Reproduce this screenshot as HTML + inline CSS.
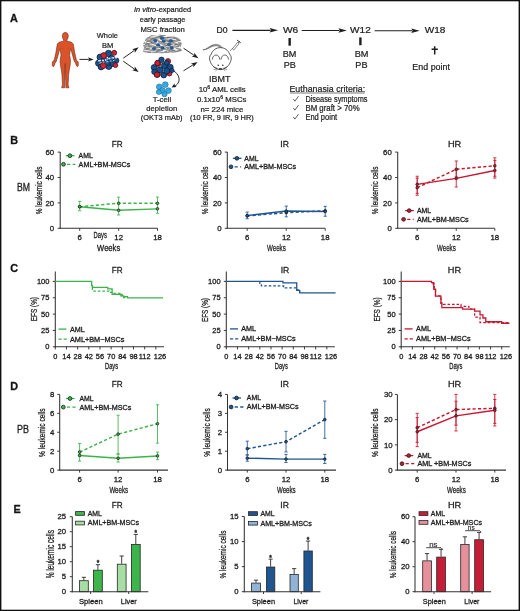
<!DOCTYPE html>
<html><head><meta charset="utf-8"><style>
html,body{margin:0;padding:0;background:#fff;overflow:hidden;}
svg{will-change:transform;display:block;font-family:"Liberation Sans", sans-serif;}
text{stroke:#1e1e1e;stroke-width:0.3px;}
.pa text{stroke-width:0.22px;}
</style></head><body>
<svg width="520" height="611" viewBox="0 0 520 611">
<rect x="0" y="0" width="520" height="611" fill="#fff"/>
<text transform="translate(10.00,22.00)" font-size="10.8" text-anchor="start" fill="#111" font-weight="bold">A</text>
<text transform="translate(10.30,144.30)" font-size="10.8" text-anchor="start" fill="#111" font-weight="bold">B</text>
<text transform="translate(10.30,272.30)" font-size="10.8" text-anchor="start" fill="#111" font-weight="bold">C</text>
<text transform="translate(10.30,389.80)" font-size="10.8" text-anchor="start" fill="#111" font-weight="bold">D</text>
<text transform="translate(13.40,513.20)" font-size="10.8" text-anchor="start" fill="#111" font-weight="bold">E</text>
<text transform="translate(23.50,190.60)" font-size="10.1" text-anchor="middle" fill="#1e1e1e" textLength="13.0" lengthAdjust="spacingAndGlyphs">BM</text>
<text transform="translate(22.95,432.60)" font-size="10.0" text-anchor="middle" fill="#1e1e1e" textLength="11.9" lengthAdjust="spacingAndGlyphs">PB</text>
<line x1="60.20" y1="152.10" x2="60.20" y2="228.80" stroke="#333333" stroke-width="1.05" stroke-linecap="butt"/>
<line x1="59.70" y1="228.30" x2="157.50" y2="228.30" stroke="#333333" stroke-width="1.05" stroke-linecap="butt"/>
<line x1="57.70" y1="228.30" x2="60.20" y2="228.30" stroke="#333333" stroke-width="0.95" stroke-linecap="butt"/>
<text transform="translate(54.20,230.95)" font-size="7.8" text-anchor="end" fill="#1e1e1e">0</text>
<line x1="57.70" y1="202.90" x2="60.20" y2="202.90" stroke="#333333" stroke-width="0.95" stroke-linecap="butt"/>
<text transform="translate(54.20,205.55)" font-size="7.8" text-anchor="end" fill="#1e1e1e">20</text>
<line x1="57.70" y1="177.50" x2="60.20" y2="177.50" stroke="#333333" stroke-width="0.95" stroke-linecap="butt"/>
<text transform="translate(54.20,180.15)" font-size="7.8" text-anchor="end" fill="#1e1e1e">40</text>
<line x1="57.70" y1="152.10" x2="60.20" y2="152.10" stroke="#333333" stroke-width="0.95" stroke-linecap="butt"/>
<text transform="translate(54.20,154.75)" font-size="7.8" text-anchor="end" fill="#1e1e1e">60</text>
<line x1="79.70" y1="228.30" x2="79.70" y2="230.80" stroke="#333333" stroke-width="0.95" stroke-linecap="butt"/>
<text transform="translate(79.70,239.90)" font-size="7.8" text-anchor="middle" fill="#1e1e1e">6</text>
<line x1="118.65" y1="228.30" x2="118.65" y2="230.80" stroke="#333333" stroke-width="0.95" stroke-linecap="butt"/>
<text transform="translate(118.65,239.90)" font-size="7.8" text-anchor="middle" fill="#1e1e1e">12</text>
<line x1="157.50" y1="228.30" x2="157.50" y2="230.80" stroke="#333333" stroke-width="0.95" stroke-linecap="butt"/>
<text transform="translate(157.50,239.90)" font-size="7.8" text-anchor="middle" fill="#1e1e1e">18</text>
<line x1="79.70" y1="210.77" x2="79.70" y2="201.38" stroke="#3cb44a" stroke-width="0.85" stroke-linecap="butt"/>
<line x1="78.10" y1="210.77" x2="81.30" y2="210.77" stroke="#3cb44a" stroke-width="0.85" stroke-linecap="butt"/>
<line x1="78.10" y1="201.38" x2="81.30" y2="201.38" stroke="#3cb44a" stroke-width="0.85" stroke-linecap="butt"/>
<line x1="118.65" y1="214.97" x2="118.65" y2="197.19" stroke="#3cb44a" stroke-width="0.85" stroke-linecap="butt"/>
<line x1="117.05" y1="214.97" x2="120.25" y2="214.97" stroke="#3cb44a" stroke-width="0.85" stroke-linecap="butt"/>
<line x1="117.05" y1="197.19" x2="120.25" y2="197.19" stroke="#3cb44a" stroke-width="0.85" stroke-linecap="butt"/>
<line x1="157.50" y1="213.31" x2="157.50" y2="197.06" stroke="#3cb44a" stroke-width="0.85" stroke-linecap="butt"/>
<line x1="155.90" y1="213.31" x2="159.10" y2="213.31" stroke="#3cb44a" stroke-width="0.85" stroke-linecap="butt"/>
<line x1="155.90" y1="197.06" x2="159.10" y2="197.06" stroke="#3cb44a" stroke-width="0.85" stroke-linecap="butt"/>
<polyline points="79.70,206.71 118.65,203.28 157.50,203.28" fill="none" stroke="#3cb44a" stroke-width="1.45" stroke-linejoin="miter" stroke-dasharray="3.2,2.2"/>
<polyline points="79.70,206.71 118.65,210.27 157.50,208.87" fill="none" stroke="#3cb44a" stroke-width="1.45" stroke-linejoin="miter"/>
<circle cx="79.70" cy="206.71" r="1.35" fill="#3cb44a" stroke="#1a1a1a" stroke-width="0.7"/>
<circle cx="118.65" cy="203.28" r="1.35" fill="#3cb44a" stroke="#1a1a1a" stroke-width="0.7"/>
<circle cx="157.50" cy="203.28" r="1.35" fill="#3cb44a" stroke="#1a1a1a" stroke-width="0.7"/>
<circle cx="79.70" cy="206.71" r="1.35" fill="#3cb44a" stroke="#1a1a1a" stroke-width="0.7"/>
<circle cx="118.65" cy="210.27" r="1.35" fill="#3cb44a" stroke="#1a1a1a" stroke-width="0.7"/>
<circle cx="157.50" cy="208.87" r="1.35" fill="#3cb44a" stroke="#1a1a1a" stroke-width="0.7"/>
<text transform="translate(117.30,146.80)" font-size="9.7" text-anchor="middle" fill="#1e1e1e" textLength="10.9" lengthAdjust="spacingAndGlyphs">FR</text>
<line x1="65.90" y1="155.70" x2="74.50" y2="155.70" stroke="#3cb44a" stroke-width="1.3" stroke-linecap="butt"/>
<line x1="67.10" y1="164.30" x2="75.40" y2="164.30" stroke="#3cb44a" stroke-width="1.3" stroke-linecap="butt" stroke-dasharray="3.2,2.3"/>
<circle cx="69.90" cy="155.70" r="1.9" fill="#3cb44a" stroke="#1a1a1a" stroke-width="0.75"/>
<circle cx="63.50" cy="164.30" r="1.9" fill="#3cb44a" stroke="#1a1a1a" stroke-width="0.75"/>
<text transform="translate(78.60,158.15)" font-size="7.1" text-anchor="start" fill="#1e1e1e" textLength="14.2" lengthAdjust="spacingAndGlyphs">AML</text>
<text transform="translate(78.60,166.75)" font-size="7.1" text-anchor="start" fill="#1e1e1e" textLength="51.8" lengthAdjust="spacingAndGlyphs">AML+BM-MSCs</text>
<text transform="translate(41.55,190.35) rotate(-90)" font-size="8.68" text-anchor="middle" fill="#1e1e1e" textLength="47.9" lengthAdjust="spacingAndGlyphs">% leukemic cells</text>
<text transform="translate(108.65,250.70)" font-size="8.4" text-anchor="middle" fill="#1e1e1e" textLength="23.1" lengthAdjust="spacingAndGlyphs">Weeks</text>
<text transform="translate(100.25,238.40)" font-size="9.4" text-anchor="middle" fill="#1e1e1e" textLength="13.3" lengthAdjust="spacingAndGlyphs">Days</text>
<line x1="227.30" y1="152.10" x2="227.30" y2="228.80" stroke="#333333" stroke-width="1.05" stroke-linecap="butt"/>
<line x1="226.80" y1="228.30" x2="325.20" y2="228.30" stroke="#333333" stroke-width="1.05" stroke-linecap="butt"/>
<line x1="224.80" y1="228.30" x2="227.30" y2="228.30" stroke="#333333" stroke-width="0.95" stroke-linecap="butt"/>
<text transform="translate(221.60,230.95)" font-size="7.8" text-anchor="end" fill="#1e1e1e">0</text>
<line x1="224.80" y1="202.90" x2="227.30" y2="202.90" stroke="#333333" stroke-width="0.95" stroke-linecap="butt"/>
<text transform="translate(221.60,205.55)" font-size="7.8" text-anchor="end" fill="#1e1e1e">20</text>
<line x1="224.80" y1="177.50" x2="227.30" y2="177.50" stroke="#333333" stroke-width="0.95" stroke-linecap="butt"/>
<text transform="translate(221.60,180.15)" font-size="7.8" text-anchor="end" fill="#1e1e1e">40</text>
<line x1="224.80" y1="152.10" x2="227.30" y2="152.10" stroke="#333333" stroke-width="0.95" stroke-linecap="butt"/>
<text transform="translate(221.60,154.75)" font-size="7.8" text-anchor="end" fill="#1e1e1e">60</text>
<line x1="247.20" y1="228.30" x2="247.20" y2="230.80" stroke="#333333" stroke-width="0.95" stroke-linecap="butt"/>
<text transform="translate(247.20,239.90)" font-size="7.8" text-anchor="middle" fill="#1e1e1e">6</text>
<line x1="286.25" y1="228.30" x2="286.25" y2="230.80" stroke="#333333" stroke-width="0.95" stroke-linecap="butt"/>
<text transform="translate(286.25,239.90)" font-size="7.8" text-anchor="middle" fill="#1e1e1e">12</text>
<line x1="325.20" y1="228.30" x2="325.20" y2="230.80" stroke="#333333" stroke-width="0.95" stroke-linecap="butt"/>
<text transform="translate(325.20,239.90)" font-size="7.8" text-anchor="middle" fill="#1e1e1e">18</text>
<line x1="247.20" y1="218.78" x2="247.20" y2="212.04" stroke="#1f5592" stroke-width="0.85" stroke-linecap="butt"/>
<line x1="245.60" y1="218.78" x2="248.80" y2="218.78" stroke="#1f5592" stroke-width="0.85" stroke-linecap="butt"/>
<line x1="245.60" y1="212.04" x2="248.80" y2="212.04" stroke="#1f5592" stroke-width="0.85" stroke-linecap="butt"/>
<line x1="286.25" y1="216.87" x2="286.25" y2="206.08" stroke="#1f5592" stroke-width="0.85" stroke-linecap="butt"/>
<line x1="284.65" y1="216.87" x2="287.85" y2="216.87" stroke="#1f5592" stroke-width="0.85" stroke-linecap="butt"/>
<line x1="284.65" y1="206.08" x2="287.85" y2="206.08" stroke="#1f5592" stroke-width="0.85" stroke-linecap="butt"/>
<line x1="325.20" y1="216.24" x2="325.20" y2="206.33" stroke="#1f5592" stroke-width="0.85" stroke-linecap="butt"/>
<line x1="323.60" y1="216.24" x2="326.80" y2="216.24" stroke="#1f5592" stroke-width="0.85" stroke-linecap="butt"/>
<line x1="323.60" y1="206.33" x2="326.80" y2="206.33" stroke="#1f5592" stroke-width="0.85" stroke-linecap="butt"/>
<polyline points="247.20,215.85 286.25,212.68 325.20,210.77" fill="none" stroke="#1f5592" stroke-width="1.45" stroke-linejoin="miter" stroke-dasharray="3.2,2.2"/>
<polyline points="247.20,215.60 286.25,211.03 325.20,211.54" fill="none" stroke="#1f5592" stroke-width="1.45" stroke-linejoin="miter"/>
<circle cx="247.20" cy="215.85" r="1.35" fill="#1f5592" stroke="#1a1a1a" stroke-width="0.7"/>
<circle cx="286.25" cy="212.68" r="1.35" fill="#1f5592" stroke="#1a1a1a" stroke-width="0.7"/>
<circle cx="325.20" cy="210.77" r="1.35" fill="#1f5592" stroke="#1a1a1a" stroke-width="0.7"/>
<circle cx="247.20" cy="215.60" r="1.35" fill="#1f5592" stroke="#1a1a1a" stroke-width="0.7"/>
<circle cx="286.25" cy="211.03" r="1.35" fill="#1f5592" stroke="#1a1a1a" stroke-width="0.7"/>
<circle cx="325.20" cy="211.54" r="1.35" fill="#1f5592" stroke="#1a1a1a" stroke-width="0.7"/>
<text transform="translate(284.60,146.80)" font-size="9.7" text-anchor="middle" fill="#1e1e1e" textLength="8.6" lengthAdjust="spacingAndGlyphs">IR</text>
<line x1="232.90" y1="158.30" x2="241.50" y2="158.30" stroke="#1f5592" stroke-width="1.3" stroke-linecap="butt"/>
<line x1="234.60" y1="166.80" x2="241.10" y2="166.80" stroke="#1f5592" stroke-width="1.3" stroke-linecap="butt" stroke-dasharray="3.2,2.3"/>
<circle cx="236.90" cy="158.30" r="1.9" fill="#1f5592" stroke="#1a1a1a" stroke-width="0.75"/>
<circle cx="231.00" cy="166.80" r="1.9" fill="#1f5592" stroke="#1a1a1a" stroke-width="0.75"/>
<text transform="translate(244.30,160.75)" font-size="7.1" text-anchor="start" fill="#1e1e1e" textLength="14.2" lengthAdjust="spacingAndGlyphs">AML</text>
<text transform="translate(244.30,169.25)" font-size="7.1" text-anchor="start" fill="#1e1e1e" textLength="51.8" lengthAdjust="spacingAndGlyphs">AML+BM-MSCs</text>
<text transform="translate(207.85,190.35) rotate(-90)" font-size="8.82" text-anchor="middle" fill="#1e1e1e" textLength="47.9" lengthAdjust="spacingAndGlyphs">% leukemic cells</text>
<text transform="translate(276.40,250.60)" font-size="9.6" text-anchor="middle" fill="#1e1e1e" textLength="18.8" lengthAdjust="spacingAndGlyphs">Weeks</text>
<line x1="397.70" y1="152.10" x2="397.70" y2="228.80" stroke="#333333" stroke-width="1.05" stroke-linecap="butt"/>
<line x1="397.20" y1="228.30" x2="494.80" y2="228.30" stroke="#333333" stroke-width="1.05" stroke-linecap="butt"/>
<line x1="395.20" y1="228.30" x2="397.70" y2="228.30" stroke="#333333" stroke-width="0.95" stroke-linecap="butt"/>
<text transform="translate(391.80,230.95)" font-size="7.8" text-anchor="end" fill="#1e1e1e">0</text>
<line x1="395.20" y1="202.90" x2="397.70" y2="202.90" stroke="#333333" stroke-width="0.95" stroke-linecap="butt"/>
<text transform="translate(391.80,205.55)" font-size="7.8" text-anchor="end" fill="#1e1e1e">20</text>
<line x1="395.20" y1="177.50" x2="397.70" y2="177.50" stroke="#333333" stroke-width="0.95" stroke-linecap="butt"/>
<text transform="translate(391.80,180.15)" font-size="7.8" text-anchor="end" fill="#1e1e1e">40</text>
<line x1="395.20" y1="152.10" x2="397.70" y2="152.10" stroke="#333333" stroke-width="0.95" stroke-linecap="butt"/>
<text transform="translate(391.80,154.75)" font-size="7.8" text-anchor="end" fill="#1e1e1e">60</text>
<line x1="417.20" y1="228.30" x2="417.20" y2="230.80" stroke="#333333" stroke-width="0.95" stroke-linecap="butt"/>
<text transform="translate(417.20,239.90)" font-size="7.8" text-anchor="middle" fill="#1e1e1e">6</text>
<line x1="456.25" y1="228.30" x2="456.25" y2="230.80" stroke="#333333" stroke-width="0.95" stroke-linecap="butt"/>
<text transform="translate(456.25,239.90)" font-size="7.8" text-anchor="middle" fill="#1e1e1e">12</text>
<line x1="494.80" y1="228.30" x2="494.80" y2="230.80" stroke="#333333" stroke-width="0.95" stroke-linecap="butt"/>
<text transform="translate(494.80,239.90)" font-size="7.8" text-anchor="middle" fill="#1e1e1e">18</text>
<line x1="417.20" y1="193.38" x2="417.20" y2="176.23" stroke="#c8172f" stroke-width="0.85" stroke-linecap="butt"/>
<line x1="415.60" y1="193.38" x2="418.80" y2="193.38" stroke="#c8172f" stroke-width="0.85" stroke-linecap="butt"/>
<line x1="415.60" y1="176.23" x2="418.80" y2="176.23" stroke="#c8172f" stroke-width="0.85" stroke-linecap="butt"/>
<line x1="417.20" y1="195.28" x2="417.20" y2="178.13" stroke="#c8172f" stroke-width="0.85" stroke-linecap="butt"/>
<line x1="415.60" y1="195.28" x2="418.80" y2="195.28" stroke="#c8172f" stroke-width="0.85" stroke-linecap="butt"/>
<line x1="415.60" y1="178.13" x2="418.80" y2="178.13" stroke="#c8172f" stroke-width="0.85" stroke-linecap="butt"/>
<line x1="456.25" y1="187.03" x2="456.25" y2="169.88" stroke="#c8172f" stroke-width="0.85" stroke-linecap="butt"/>
<line x1="454.65" y1="187.03" x2="457.85" y2="187.03" stroke="#c8172f" stroke-width="0.85" stroke-linecap="butt"/>
<line x1="454.65" y1="169.88" x2="457.85" y2="169.88" stroke="#c8172f" stroke-width="0.85" stroke-linecap="butt"/>
<line x1="456.25" y1="176.87" x2="456.25" y2="160.99" stroke="#c8172f" stroke-width="0.85" stroke-linecap="butt"/>
<line x1="454.65" y1="176.87" x2="457.85" y2="176.87" stroke="#c8172f" stroke-width="0.85" stroke-linecap="butt"/>
<line x1="454.65" y1="160.99" x2="457.85" y2="160.99" stroke="#c8172f" stroke-width="0.85" stroke-linecap="butt"/>
<line x1="494.80" y1="178.13" x2="494.80" y2="160.36" stroke="#c8172f" stroke-width="0.85" stroke-linecap="butt"/>
<line x1="493.20" y1="178.13" x2="496.40" y2="178.13" stroke="#c8172f" stroke-width="0.85" stroke-linecap="butt"/>
<line x1="493.20" y1="160.36" x2="496.40" y2="160.36" stroke="#c8172f" stroke-width="0.85" stroke-linecap="butt"/>
<line x1="494.80" y1="176.23" x2="494.80" y2="157.81" stroke="#c8172f" stroke-width="0.85" stroke-linecap="butt"/>
<line x1="493.20" y1="176.23" x2="496.40" y2="176.23" stroke="#c8172f" stroke-width="0.85" stroke-linecap="butt"/>
<line x1="493.20" y1="157.81" x2="496.40" y2="157.81" stroke="#c8172f" stroke-width="0.85" stroke-linecap="butt"/>
<polyline points="417.20,187.66 456.25,169.25 494.80,165.82" fill="none" stroke="#c8172f" stroke-width="1.45" stroke-linejoin="miter" stroke-dasharray="3.2,2.2"/>
<polyline points="417.20,184.36 456.25,178.39 494.80,170.51" fill="none" stroke="#c8172f" stroke-width="1.45" stroke-linejoin="miter"/>
<circle cx="417.20" cy="187.66" r="1.35" fill="#c8172f" stroke="#1a1a1a" stroke-width="0.7"/>
<circle cx="456.25" cy="169.25" r="1.35" fill="#c8172f" stroke="#1a1a1a" stroke-width="0.7"/>
<circle cx="494.80" cy="165.82" r="1.35" fill="#c8172f" stroke="#1a1a1a" stroke-width="0.7"/>
<circle cx="417.20" cy="184.36" r="1.35" fill="#c8172f" stroke="#1a1a1a" stroke-width="0.7"/>
<circle cx="456.25" cy="178.39" r="1.35" fill="#c8172f" stroke="#1a1a1a" stroke-width="0.7"/>
<circle cx="494.80" cy="170.51" r="1.35" fill="#c8172f" stroke="#1a1a1a" stroke-width="0.7"/>
<text transform="translate(454.60,146.80)" font-size="9.7" text-anchor="middle" fill="#1e1e1e" textLength="13.3" lengthAdjust="spacingAndGlyphs">HR</text>
<line x1="405.20" y1="210.60" x2="413.80" y2="210.60" stroke="#c8172f" stroke-width="1.3" stroke-linecap="butt"/>
<line x1="407.20" y1="219.30" x2="413.70" y2="219.30" stroke="#c8172f" stroke-width="1.3" stroke-linecap="butt" stroke-dasharray="3.2,2.3"/>
<circle cx="409.20" cy="210.60" r="1.9" fill="#c8172f" stroke="#1a1a1a" stroke-width="0.75"/>
<circle cx="403.60" cy="219.30" r="1.9" fill="#c8172f" stroke="#1a1a1a" stroke-width="0.75"/>
<text transform="translate(416.90,213.05)" font-size="7.1" text-anchor="start" fill="#1e1e1e" textLength="14.2" lengthAdjust="spacingAndGlyphs">AML</text>
<text transform="translate(416.90,221.75)" font-size="7.1" text-anchor="start" fill="#1e1e1e" textLength="51.8" lengthAdjust="spacingAndGlyphs">AML+BM-MSCs</text>
<text transform="translate(378.25,190.35) rotate(-90)" font-size="8.82" text-anchor="middle" fill="#1e1e1e" textLength="47.9" lengthAdjust="spacingAndGlyphs">% leukemic cells</text>
<text transform="translate(446.40,250.60)" font-size="9.6" text-anchor="middle" fill="#1e1e1e" textLength="18.8" lengthAdjust="spacingAndGlyphs">Weeks</text>
<line x1="55.30" y1="271.60" x2="55.30" y2="347.30" stroke="#333333" stroke-width="1.05" stroke-linecap="butt"/>
<line x1="54.80" y1="346.80" x2="164.00" y2="346.80" stroke="#333333" stroke-width="1.05" stroke-linecap="butt"/>
<line x1="52.80" y1="346.80" x2="55.30" y2="346.80" stroke="#333333" stroke-width="0.95" stroke-linecap="butt"/>
<text transform="translate(49.40,349.40)" font-size="7.5" text-anchor="end" fill="#1e1e1e">0</text>
<line x1="52.80" y1="330.45" x2="55.30" y2="330.45" stroke="#333333" stroke-width="0.95" stroke-linecap="butt"/>
<text transform="translate(49.40,333.05)" font-size="7.5" text-anchor="end" fill="#1e1e1e">25</text>
<line x1="52.80" y1="314.10" x2="55.30" y2="314.10" stroke="#333333" stroke-width="0.95" stroke-linecap="butt"/>
<text transform="translate(49.40,316.70)" font-size="7.5" text-anchor="end" fill="#1e1e1e">50</text>
<line x1="52.80" y1="297.75" x2="55.30" y2="297.75" stroke="#333333" stroke-width="0.95" stroke-linecap="butt"/>
<text transform="translate(49.40,300.35)" font-size="7.5" text-anchor="end" fill="#1e1e1e">75</text>
<line x1="52.80" y1="281.40" x2="55.30" y2="281.40" stroke="#333333" stroke-width="0.95" stroke-linecap="butt"/>
<text transform="translate(49.40,284.00)" font-size="7.5" text-anchor="end" fill="#1e1e1e">100</text>
<line x1="55.30" y1="346.80" x2="55.30" y2="349.40" stroke="#333333" stroke-width="0.95" stroke-linecap="butt"/>
<text transform="translate(55.30,358.60)" font-size="7.4" text-anchor="middle" fill="#1e1e1e">0</text>
<line x1="66.47" y1="346.80" x2="66.47" y2="349.40" stroke="#333333" stroke-width="0.95" stroke-linecap="butt"/>
<text transform="translate(66.47,358.60)" font-size="7.4" text-anchor="middle" fill="#1e1e1e">14</text>
<line x1="77.64" y1="346.80" x2="77.64" y2="349.40" stroke="#333333" stroke-width="0.95" stroke-linecap="butt"/>
<text transform="translate(77.64,358.60)" font-size="7.4" text-anchor="middle" fill="#1e1e1e">28</text>
<line x1="88.81" y1="346.80" x2="88.81" y2="349.40" stroke="#333333" stroke-width="0.95" stroke-linecap="butt"/>
<text transform="translate(88.81,358.60)" font-size="7.4" text-anchor="middle" fill="#1e1e1e">42</text>
<line x1="99.98" y1="346.80" x2="99.98" y2="349.40" stroke="#333333" stroke-width="0.95" stroke-linecap="butt"/>
<text transform="translate(99.98,358.60)" font-size="7.4" text-anchor="middle" fill="#1e1e1e">56</text>
<line x1="111.15" y1="346.80" x2="111.15" y2="349.40" stroke="#333333" stroke-width="0.95" stroke-linecap="butt"/>
<text transform="translate(111.15,358.60)" font-size="7.4" text-anchor="middle" fill="#1e1e1e">70</text>
<line x1="122.32" y1="346.80" x2="122.32" y2="349.40" stroke="#333333" stroke-width="0.95" stroke-linecap="butt"/>
<text transform="translate(122.32,358.60)" font-size="7.4" text-anchor="middle" fill="#1e1e1e">84</text>
<line x1="133.49" y1="346.80" x2="133.49" y2="349.40" stroke="#333333" stroke-width="0.95" stroke-linecap="butt"/>
<text transform="translate(133.49,358.60)" font-size="7.4" text-anchor="middle" fill="#1e1e1e">98</text>
<line x1="144.66" y1="346.80" x2="144.66" y2="349.40" stroke="#333333" stroke-width="0.95" stroke-linecap="butt"/>
<text transform="translate(144.66,358.60)" font-size="7.4" text-anchor="middle" fill="#1e1e1e">112</text>
<line x1="155.83" y1="346.80" x2="155.83" y2="349.40" stroke="#333333" stroke-width="0.95" stroke-linecap="butt"/>
<text transform="translate(160.03,358.60)" font-size="7.4" text-anchor="middle" fill="#1e1e1e">126</text>
<polyline points="92.40,287.42 92.40,287.42 92.40,291.01 109.24,291.01 109.24,291.01 109.24,292.39 112.91,292.39 112.91,292.39 112.91,293.43 120.80,293.43 120.80,293.43 120.80,295.79 123.68,295.79 123.68,295.79 123.68,297.62 127.51,297.62" fill="none" stroke="#3cb44a" stroke-width="1.25" stroke-linejoin="miter" stroke-dasharray="2.6,1.9"/>
<polyline points="55.30,281.40 91.68,281.40 91.68,281.40 91.68,285.72 92.40,285.72 92.40,287.42 107.80,287.42 107.80,287.42 107.80,288.79 112.11,288.79 112.11,288.79 112.11,294.41 122.16,294.41 122.16,294.41 122.16,295.79 123.68,295.79 123.68,296.70 127.51,296.70 127.51,296.70 127.51,297.88 163.01,297.88" fill="none" stroke="#3cb44a" stroke-width="1.3" stroke-linejoin="miter"/>
<text transform="translate(117.30,272.80)" font-size="9.7" text-anchor="middle" fill="#1e1e1e" textLength="10.9" lengthAdjust="spacingAndGlyphs">FR</text>
<line x1="58.50" y1="329.10" x2="66.50" y2="329.10" stroke="#3cb44a" stroke-width="1.3" stroke-linecap="butt"/>
<line x1="58.50" y1="339.20" x2="66.80" y2="339.20" stroke="#3cb44a" stroke-width="1.3" stroke-linecap="butt" stroke-dasharray="3.2,1.9"/>
<text transform="translate(69.90,331.60)" font-size="7.2" text-anchor="start" fill="#1e1e1e">AML</text>
<text transform="translate(69.90,341.70)" font-size="7.2" text-anchor="start" fill="#1e1e1e" textLength="54.5" lengthAdjust="spacingAndGlyphs">AML+BM−MSCs</text>
<text transform="translate(37.00,309.10) rotate(-90)" font-size="9.4" text-anchor="middle" fill="#1e1e1e" textLength="24.2" lengthAdjust="spacingAndGlyphs">EFS (%)</text>
<text transform="translate(111.55,368.50)" font-size="9.0" text-anchor="middle" fill="#1e1e1e" textLength="13.1" lengthAdjust="spacingAndGlyphs">Days</text>
<line x1="226.30" y1="271.60" x2="226.30" y2="347.30" stroke="#333333" stroke-width="1.05" stroke-linecap="butt"/>
<line x1="225.80" y1="346.80" x2="334.80" y2="346.80" stroke="#333333" stroke-width="1.05" stroke-linecap="butt"/>
<line x1="223.80" y1="346.80" x2="226.30" y2="346.80" stroke="#333333" stroke-width="0.95" stroke-linecap="butt"/>
<text transform="translate(220.60,349.40)" font-size="7.5" text-anchor="end" fill="#1e1e1e">0</text>
<line x1="223.80" y1="330.45" x2="226.30" y2="330.45" stroke="#333333" stroke-width="0.95" stroke-linecap="butt"/>
<text transform="translate(220.60,333.05)" font-size="7.5" text-anchor="end" fill="#1e1e1e">25</text>
<line x1="223.80" y1="314.10" x2="226.30" y2="314.10" stroke="#333333" stroke-width="0.95" stroke-linecap="butt"/>
<text transform="translate(220.60,316.70)" font-size="7.5" text-anchor="end" fill="#1e1e1e">50</text>
<line x1="223.80" y1="297.75" x2="226.30" y2="297.75" stroke="#333333" stroke-width="0.95" stroke-linecap="butt"/>
<text transform="translate(220.60,300.35)" font-size="7.5" text-anchor="end" fill="#1e1e1e">75</text>
<line x1="223.80" y1="281.40" x2="226.30" y2="281.40" stroke="#333333" stroke-width="0.95" stroke-linecap="butt"/>
<text transform="translate(220.60,284.00)" font-size="7.5" text-anchor="end" fill="#1e1e1e">100</text>
<line x1="226.30" y1="346.80" x2="226.30" y2="349.40" stroke="#333333" stroke-width="0.95" stroke-linecap="butt"/>
<text transform="translate(226.30,358.60)" font-size="7.4" text-anchor="middle" fill="#1e1e1e">0</text>
<line x1="237.47" y1="346.80" x2="237.47" y2="349.40" stroke="#333333" stroke-width="0.95" stroke-linecap="butt"/>
<text transform="translate(237.47,358.60)" font-size="7.4" text-anchor="middle" fill="#1e1e1e">14</text>
<line x1="248.64" y1="346.80" x2="248.64" y2="349.40" stroke="#333333" stroke-width="0.95" stroke-linecap="butt"/>
<text transform="translate(248.64,358.60)" font-size="7.4" text-anchor="middle" fill="#1e1e1e">28</text>
<line x1="259.81" y1="346.80" x2="259.81" y2="349.40" stroke="#333333" stroke-width="0.95" stroke-linecap="butt"/>
<text transform="translate(259.81,358.60)" font-size="7.4" text-anchor="middle" fill="#1e1e1e">42</text>
<line x1="270.98" y1="346.80" x2="270.98" y2="349.40" stroke="#333333" stroke-width="0.95" stroke-linecap="butt"/>
<text transform="translate(270.98,358.60)" font-size="7.4" text-anchor="middle" fill="#1e1e1e">56</text>
<line x1="282.15" y1="346.80" x2="282.15" y2="349.40" stroke="#333333" stroke-width="0.95" stroke-linecap="butt"/>
<text transform="translate(282.15,358.60)" font-size="7.4" text-anchor="middle" fill="#1e1e1e">70</text>
<line x1="293.32" y1="346.80" x2="293.32" y2="349.40" stroke="#333333" stroke-width="0.95" stroke-linecap="butt"/>
<text transform="translate(293.32,358.60)" font-size="7.4" text-anchor="middle" fill="#1e1e1e">84</text>
<line x1="304.49" y1="346.80" x2="304.49" y2="349.40" stroke="#333333" stroke-width="0.95" stroke-linecap="butt"/>
<text transform="translate(304.49,358.60)" font-size="7.4" text-anchor="middle" fill="#1e1e1e">98</text>
<line x1="315.66" y1="346.80" x2="315.66" y2="349.40" stroke="#333333" stroke-width="0.95" stroke-linecap="butt"/>
<text transform="translate(315.66,358.60)" font-size="7.4" text-anchor="middle" fill="#1e1e1e">112</text>
<line x1="326.83" y1="346.80" x2="326.83" y2="349.40" stroke="#333333" stroke-width="0.95" stroke-linecap="butt"/>
<text transform="translate(331.03,358.60)" font-size="7.4" text-anchor="middle" fill="#1e1e1e">126</text>
<polyline points="259.81,281.40 259.81,281.40 259.81,283.36 261.41,283.36 261.41,283.36 261.41,285.98 283.59,285.98 283.59,285.98 283.59,287.94 296.75,287.94 296.75,287.94 296.75,289.90 299.70,289.90 299.70,289.90 299.70,291.86" fill="none" stroke="#1f5592" stroke-width="1.25" stroke-linejoin="miter" stroke-dasharray="2.6,1.9"/>
<polyline points="226.30,281.40 282.95,281.40 282.95,281.40 282.95,282.90 296.75,282.90 296.75,282.90 296.75,290.29 299.70,290.29 299.70,290.29 299.70,292.84 335.61,292.84" fill="none" stroke="#1f5592" stroke-width="1.3" stroke-linejoin="miter"/>
<text transform="translate(285.00,272.80)" font-size="9.7" text-anchor="middle" fill="#1e1e1e" textLength="8.6" lengthAdjust="spacingAndGlyphs">IR</text>
<line x1="230.00" y1="328.90" x2="238.00" y2="328.90" stroke="#1f5592" stroke-width="1.3" stroke-linecap="butt"/>
<line x1="230.00" y1="338.80" x2="238.30" y2="338.80" stroke="#1f5592" stroke-width="1.3" stroke-linecap="butt" stroke-dasharray="3.2,1.9"/>
<text transform="translate(241.20,331.40)" font-size="7.2" text-anchor="start" fill="#1e1e1e">AML</text>
<text transform="translate(241.20,341.30)" font-size="7.2" text-anchor="start" fill="#1e1e1e" textLength="54.5" lengthAdjust="spacingAndGlyphs">AML+BM−MSCs</text>
<text transform="translate(207.90,310.05) rotate(-90)" font-size="9.4" text-anchor="middle" fill="#1e1e1e" textLength="23.9" lengthAdjust="spacingAndGlyphs">EFS (%)</text>
<text transform="translate(281.30,368.50)" font-size="9.0" text-anchor="middle" fill="#1e1e1e" textLength="13.1" lengthAdjust="spacingAndGlyphs">Days</text>
<line x1="401.20" y1="271.60" x2="401.20" y2="347.30" stroke="#333333" stroke-width="1.05" stroke-linecap="butt"/>
<line x1="400.70" y1="346.80" x2="509.80" y2="346.80" stroke="#333333" stroke-width="1.05" stroke-linecap="butt"/>
<line x1="398.70" y1="346.80" x2="401.20" y2="346.80" stroke="#333333" stroke-width="0.95" stroke-linecap="butt"/>
<text transform="translate(395.60,349.40)" font-size="7.5" text-anchor="end" fill="#1e1e1e">0</text>
<line x1="398.70" y1="330.45" x2="401.20" y2="330.45" stroke="#333333" stroke-width="0.95" stroke-linecap="butt"/>
<text transform="translate(395.60,333.05)" font-size="7.5" text-anchor="end" fill="#1e1e1e">25</text>
<line x1="398.70" y1="314.10" x2="401.20" y2="314.10" stroke="#333333" stroke-width="0.95" stroke-linecap="butt"/>
<text transform="translate(395.60,316.70)" font-size="7.5" text-anchor="end" fill="#1e1e1e">50</text>
<line x1="398.70" y1="297.75" x2="401.20" y2="297.75" stroke="#333333" stroke-width="0.95" stroke-linecap="butt"/>
<text transform="translate(395.60,300.35)" font-size="7.5" text-anchor="end" fill="#1e1e1e">75</text>
<line x1="398.70" y1="281.40" x2="401.20" y2="281.40" stroke="#333333" stroke-width="0.95" stroke-linecap="butt"/>
<text transform="translate(395.60,284.00)" font-size="7.5" text-anchor="end" fill="#1e1e1e">100</text>
<line x1="401.20" y1="346.80" x2="401.20" y2="349.40" stroke="#333333" stroke-width="0.95" stroke-linecap="butt"/>
<text transform="translate(401.20,358.60)" font-size="7.4" text-anchor="middle" fill="#1e1e1e">0</text>
<line x1="412.37" y1="346.80" x2="412.37" y2="349.40" stroke="#333333" stroke-width="0.95" stroke-linecap="butt"/>
<text transform="translate(412.37,358.60)" font-size="7.4" text-anchor="middle" fill="#1e1e1e">14</text>
<line x1="423.54" y1="346.80" x2="423.54" y2="349.40" stroke="#333333" stroke-width="0.95" stroke-linecap="butt"/>
<text transform="translate(423.54,358.60)" font-size="7.4" text-anchor="middle" fill="#1e1e1e">28</text>
<line x1="434.71" y1="346.80" x2="434.71" y2="349.40" stroke="#333333" stroke-width="0.95" stroke-linecap="butt"/>
<text transform="translate(434.71,358.60)" font-size="7.4" text-anchor="middle" fill="#1e1e1e">42</text>
<line x1="445.88" y1="346.80" x2="445.88" y2="349.40" stroke="#333333" stroke-width="0.95" stroke-linecap="butt"/>
<text transform="translate(445.88,358.60)" font-size="7.4" text-anchor="middle" fill="#1e1e1e">56</text>
<line x1="457.05" y1="346.80" x2="457.05" y2="349.40" stroke="#333333" stroke-width="0.95" stroke-linecap="butt"/>
<text transform="translate(457.05,358.60)" font-size="7.4" text-anchor="middle" fill="#1e1e1e">70</text>
<line x1="468.22" y1="346.80" x2="468.22" y2="349.40" stroke="#333333" stroke-width="0.95" stroke-linecap="butt"/>
<text transform="translate(468.22,358.60)" font-size="7.4" text-anchor="middle" fill="#1e1e1e">84</text>
<line x1="479.39" y1="346.80" x2="479.39" y2="349.40" stroke="#333333" stroke-width="0.95" stroke-linecap="butt"/>
<text transform="translate(479.39,358.60)" font-size="7.4" text-anchor="middle" fill="#1e1e1e">98</text>
<line x1="490.56" y1="346.80" x2="490.56" y2="349.40" stroke="#333333" stroke-width="0.95" stroke-linecap="butt"/>
<text transform="translate(490.56,358.60)" font-size="7.4" text-anchor="middle" fill="#1e1e1e">112</text>
<line x1="501.73" y1="346.80" x2="501.73" y2="349.40" stroke="#333333" stroke-width="0.95" stroke-linecap="butt"/>
<text transform="translate(505.93,358.60)" font-size="7.4" text-anchor="middle" fill="#1e1e1e">126</text>
<polyline points="433.11,282.71 433.11,282.71 433.11,284.02 434.31,284.02 434.31,289.25 435.51,289.25 435.51,295.79 440.93,295.79 440.93,295.79 440.93,302.98 443.33,302.98 443.33,302.98 443.33,304.29 461.04,304.29 461.04,304.29 461.04,306.25 468.86,306.25 468.86,306.25 468.86,309.13 474.60,309.13 474.60,309.13 474.60,315.41 474.60,315.41 474.60,317.04 478.59,317.04 480.03,317.04 480.03,317.04 480.03,322.60 509.39,322.60" fill="none" stroke="#c8172f" stroke-width="1.25" stroke-linejoin="miter" stroke-dasharray="2.6,1.9"/>
<polyline points="401.20,281.40 431.52,281.40 431.52,281.40 431.52,282.71 433.75,282.71 433.75,282.71 433.75,289.25 435.51,289.25 435.51,289.25 435.51,296.05 440.93,296.05 440.93,296.05 440.93,303.24 441.81,303.24 441.81,303.24 441.81,307.56 462.63,307.56 462.63,307.56 462.63,309.06 474.60,309.06 474.60,309.06 474.60,311.03 480.03,311.03 480.03,311.03 480.03,314.95 482.90,314.95 482.90,314.95 482.90,318.02 485.77,318.02 485.77,318.02 485.77,321.75 501.65,321.75 501.65,321.75 501.65,323.26 509.39,323.26" fill="none" stroke="#c8172f" stroke-width="1.3" stroke-linejoin="miter"/>
<text transform="translate(454.40,272.80)" font-size="9.7" text-anchor="middle" fill="#1e1e1e" textLength="13.3" lengthAdjust="spacingAndGlyphs">HR</text>
<line x1="404.60" y1="328.90" x2="412.60" y2="328.90" stroke="#c8172f" stroke-width="1.3" stroke-linecap="butt"/>
<line x1="404.60" y1="338.80" x2="412.90" y2="338.80" stroke="#c8172f" stroke-width="1.3" stroke-linecap="butt" stroke-dasharray="3.2,1.9"/>
<text transform="translate(416.10,331.40)" font-size="7.2" text-anchor="start" fill="#1e1e1e">AML</text>
<text transform="translate(416.10,341.30)" font-size="7.2" text-anchor="start" fill="#1e1e1e" textLength="54.5" lengthAdjust="spacingAndGlyphs">AML+BM−MSCs</text>
<text transform="translate(380.30,309.50) rotate(-90)" font-size="9.4" text-anchor="middle" fill="#1e1e1e" textLength="24.2" lengthAdjust="spacingAndGlyphs">EFS (%)</text>
<text transform="translate(455.80,368.50)" font-size="9.0" text-anchor="middle" fill="#1e1e1e" textLength="13.1" lengthAdjust="spacingAndGlyphs">Days</text>
<line x1="59.70" y1="394.40" x2="59.70" y2="470.60" stroke="#333333" stroke-width="1.05" stroke-linecap="butt"/>
<line x1="59.20" y1="470.10" x2="168.00" y2="470.10" stroke="#333333" stroke-width="1.05" stroke-linecap="butt"/>
<line x1="57.20" y1="470.10" x2="59.70" y2="470.10" stroke="#333333" stroke-width="0.95" stroke-linecap="butt"/>
<text transform="translate(54.30,472.75)" font-size="7.8" text-anchor="end" fill="#1e1e1e">0</text>
<line x1="57.20" y1="451.18" x2="59.70" y2="451.18" stroke="#333333" stroke-width="0.95" stroke-linecap="butt"/>
<text transform="translate(54.30,453.82)" font-size="7.8" text-anchor="end" fill="#1e1e1e">2</text>
<line x1="57.20" y1="432.25" x2="59.70" y2="432.25" stroke="#333333" stroke-width="0.95" stroke-linecap="butt"/>
<text transform="translate(54.30,434.90)" font-size="7.8" text-anchor="end" fill="#1e1e1e">4</text>
<line x1="57.20" y1="413.32" x2="59.70" y2="413.32" stroke="#333333" stroke-width="0.95" stroke-linecap="butt"/>
<text transform="translate(54.30,415.97)" font-size="7.8" text-anchor="end" fill="#1e1e1e">6</text>
<line x1="57.20" y1="394.40" x2="59.70" y2="394.40" stroke="#333333" stroke-width="0.95" stroke-linecap="butt"/>
<text transform="translate(54.30,397.05)" font-size="7.8" text-anchor="end" fill="#1e1e1e">8</text>
<line x1="79.60" y1="470.10" x2="79.60" y2="472.60" stroke="#333333" stroke-width="0.95" stroke-linecap="butt"/>
<text transform="translate(79.60,482.30)" font-size="7.8" text-anchor="middle" fill="#1e1e1e">6</text>
<line x1="118.10" y1="470.10" x2="118.10" y2="472.60" stroke="#333333" stroke-width="0.95" stroke-linecap="butt"/>
<text transform="translate(118.10,482.30)" font-size="7.8" text-anchor="middle" fill="#1e1e1e">12</text>
<line x1="157.50" y1="470.10" x2="157.50" y2="472.60" stroke="#333333" stroke-width="0.95" stroke-linecap="butt"/>
<text transform="translate(157.50,482.30)" font-size="7.8" text-anchor="middle" fill="#1e1e1e">18</text>
<line x1="79.60" y1="461.11" x2="79.60" y2="443.61" stroke="#3cb44a" stroke-width="0.85" stroke-linecap="butt"/>
<line x1="78.00" y1="461.11" x2="81.20" y2="461.11" stroke="#3cb44a" stroke-width="0.85" stroke-linecap="butt"/>
<line x1="78.00" y1="443.61" x2="81.20" y2="443.61" stroke="#3cb44a" stroke-width="0.85" stroke-linecap="butt"/>
<line x1="79.60" y1="455.91" x2="79.60" y2="451.18" stroke="#3cb44a" stroke-width="0.85" stroke-linecap="butt"/>
<line x1="78.00" y1="455.91" x2="81.20" y2="455.91" stroke="#3cb44a" stroke-width="0.85" stroke-linecap="butt"/>
<line x1="78.00" y1="451.18" x2="81.20" y2="451.18" stroke="#3cb44a" stroke-width="0.85" stroke-linecap="butt"/>
<line x1="118.10" y1="462.06" x2="118.10" y2="454.01" stroke="#3cb44a" stroke-width="0.85" stroke-linecap="butt"/>
<line x1="116.50" y1="462.06" x2="119.70" y2="462.06" stroke="#3cb44a" stroke-width="0.85" stroke-linecap="butt"/>
<line x1="116.50" y1="454.01" x2="119.70" y2="454.01" stroke="#3cb44a" stroke-width="0.85" stroke-linecap="butt"/>
<line x1="118.10" y1="454.01" x2="118.10" y2="415.22" stroke="#3cb44a" stroke-width="0.85" stroke-linecap="butt"/>
<line x1="116.50" y1="454.01" x2="119.70" y2="454.01" stroke="#3cb44a" stroke-width="0.85" stroke-linecap="butt"/>
<line x1="116.50" y1="415.22" x2="119.70" y2="415.22" stroke="#3cb44a" stroke-width="0.85" stroke-linecap="butt"/>
<line x1="157.50" y1="459.69" x2="157.50" y2="452.12" stroke="#3cb44a" stroke-width="0.85" stroke-linecap="butt"/>
<line x1="155.90" y1="459.69" x2="159.10" y2="459.69" stroke="#3cb44a" stroke-width="0.85" stroke-linecap="butt"/>
<line x1="155.90" y1="452.12" x2="159.10" y2="452.12" stroke="#3cb44a" stroke-width="0.85" stroke-linecap="butt"/>
<line x1="157.50" y1="443.13" x2="157.50" y2="404.81" stroke="#3cb44a" stroke-width="0.85" stroke-linecap="butt"/>
<line x1="155.90" y1="443.13" x2="159.10" y2="443.13" stroke="#3cb44a" stroke-width="0.85" stroke-linecap="butt"/>
<line x1="155.90" y1="404.81" x2="159.10" y2="404.81" stroke="#3cb44a" stroke-width="0.85" stroke-linecap="butt"/>
<polyline points="79.60,452.12 118.10,434.14 157.50,423.73" fill="none" stroke="#3cb44a" stroke-width="1.45" stroke-linejoin="miter" stroke-dasharray="3.2,2.2"/>
<polyline points="79.60,455.43 118.10,458.27 157.50,455.91" fill="none" stroke="#3cb44a" stroke-width="1.45" stroke-linejoin="miter"/>
<circle cx="79.60" cy="452.12" r="1.35" fill="#3cb44a" stroke="#1a1a1a" stroke-width="0.7"/>
<circle cx="118.10" cy="434.14" r="1.35" fill="#3cb44a" stroke="#1a1a1a" stroke-width="0.7"/>
<circle cx="157.50" cy="423.73" r="1.35" fill="#3cb44a" stroke="#1a1a1a" stroke-width="0.7"/>
<circle cx="79.60" cy="455.43" r="1.35" fill="#3cb44a" stroke="#1a1a1a" stroke-width="0.7"/>
<circle cx="118.10" cy="458.27" r="1.35" fill="#3cb44a" stroke="#1a1a1a" stroke-width="0.7"/>
<circle cx="157.50" cy="455.91" r="1.35" fill="#3cb44a" stroke="#1a1a1a" stroke-width="0.7"/>
<text transform="translate(117.30,386.80)" font-size="9.7" text-anchor="middle" fill="#1e1e1e" textLength="10.9" lengthAdjust="spacingAndGlyphs">FR</text>
<line x1="66.00" y1="398.50" x2="74.60" y2="398.50" stroke="#3cb44a" stroke-width="1.3" stroke-linecap="butt"/>
<line x1="66.90" y1="407.10" x2="76.30" y2="407.10" stroke="#3cb44a" stroke-width="1.3" stroke-linecap="butt" stroke-dasharray="3.2,2.3"/>
<circle cx="70.00" cy="398.50" r="1.9" fill="#3cb44a" stroke="#1a1a1a" stroke-width="0.75"/>
<circle cx="63.30" cy="407.10" r="1.9" fill="#3cb44a" stroke="#1a1a1a" stroke-width="0.75"/>
<text transform="translate(79.50,400.95)" font-size="7.1" text-anchor="start" fill="#1e1e1e" textLength="14.2" lengthAdjust="spacingAndGlyphs">AML</text>
<text transform="translate(79.50,409.55)" font-size="7.1" text-anchor="start" fill="#1e1e1e" textLength="51.8" lengthAdjust="spacingAndGlyphs">AML+BM-MSCs</text>
<text transform="translate(44.55,432.70) rotate(-90)" font-size="9.38" text-anchor="middle" fill="#1e1e1e" textLength="48.6" lengthAdjust="spacingAndGlyphs">% leukemic cells</text>
<text transform="translate(118.75,492.80)" font-size="9.4" text-anchor="middle" fill="#1e1e1e" textLength="18.7" lengthAdjust="spacingAndGlyphs">Weeks</text>
<line x1="227.50" y1="394.40" x2="227.50" y2="470.60" stroke="#333333" stroke-width="1.05" stroke-linecap="butt"/>
<line x1="227.00" y1="470.10" x2="336.00" y2="470.10" stroke="#333333" stroke-width="1.05" stroke-linecap="butt"/>
<line x1="225.00" y1="470.10" x2="227.50" y2="470.10" stroke="#333333" stroke-width="0.95" stroke-linecap="butt"/>
<text transform="translate(222.20,472.75)" font-size="7.8" text-anchor="end" fill="#1e1e1e">0</text>
<line x1="225.00" y1="451.18" x2="227.50" y2="451.18" stroke="#333333" stroke-width="0.95" stroke-linecap="butt"/>
<text transform="translate(222.20,453.82)" font-size="7.8" text-anchor="end" fill="#1e1e1e">1</text>
<line x1="225.00" y1="432.25" x2="227.50" y2="432.25" stroke="#333333" stroke-width="0.95" stroke-linecap="butt"/>
<text transform="translate(222.20,434.90)" font-size="7.8" text-anchor="end" fill="#1e1e1e">2</text>
<line x1="225.00" y1="413.32" x2="227.50" y2="413.32" stroke="#333333" stroke-width="0.95" stroke-linecap="butt"/>
<text transform="translate(222.20,415.97)" font-size="7.8" text-anchor="end" fill="#1e1e1e">3</text>
<line x1="225.00" y1="394.40" x2="227.50" y2="394.40" stroke="#333333" stroke-width="0.95" stroke-linecap="butt"/>
<text transform="translate(222.20,397.05)" font-size="7.8" text-anchor="end" fill="#1e1e1e">4</text>
<line x1="247.30" y1="470.10" x2="247.30" y2="472.60" stroke="#333333" stroke-width="0.95" stroke-linecap="butt"/>
<text transform="translate(247.30,482.30)" font-size="7.8" text-anchor="middle" fill="#1e1e1e">6</text>
<line x1="286.00" y1="470.10" x2="286.00" y2="472.60" stroke="#333333" stroke-width="0.95" stroke-linecap="butt"/>
<text transform="translate(286.00,482.30)" font-size="7.8" text-anchor="middle" fill="#1e1e1e">12</text>
<line x1="324.80" y1="470.10" x2="324.80" y2="472.60" stroke="#333333" stroke-width="0.95" stroke-linecap="butt"/>
<text transform="translate(324.80,482.30)" font-size="7.8" text-anchor="middle" fill="#1e1e1e">18</text>
<line x1="247.30" y1="461.21" x2="247.30" y2="454.96" stroke="#1f5592" stroke-width="0.85" stroke-linecap="butt"/>
<line x1="245.70" y1="461.21" x2="248.90" y2="461.21" stroke="#1f5592" stroke-width="0.85" stroke-linecap="butt"/>
<line x1="245.70" y1="454.96" x2="248.90" y2="454.96" stroke="#1f5592" stroke-width="0.85" stroke-linecap="butt"/>
<line x1="247.30" y1="454.96" x2="247.30" y2="441.14" stroke="#1f5592" stroke-width="0.85" stroke-linecap="butt"/>
<line x1="245.70" y1="454.96" x2="248.90" y2="454.96" stroke="#1f5592" stroke-width="0.85" stroke-linecap="butt"/>
<line x1="245.70" y1="441.14" x2="248.90" y2="441.14" stroke="#1f5592" stroke-width="0.85" stroke-linecap="butt"/>
<line x1="286.00" y1="462.53" x2="286.00" y2="454.39" stroke="#1f5592" stroke-width="0.85" stroke-linecap="butt"/>
<line x1="284.40" y1="462.53" x2="287.60" y2="462.53" stroke="#1f5592" stroke-width="0.85" stroke-linecap="butt"/>
<line x1="284.40" y1="454.39" x2="287.60" y2="454.39" stroke="#1f5592" stroke-width="0.85" stroke-linecap="butt"/>
<line x1="286.00" y1="451.93" x2="286.00" y2="431.30" stroke="#1f5592" stroke-width="0.85" stroke-linecap="butt"/>
<line x1="284.40" y1="451.93" x2="287.60" y2="451.93" stroke="#1f5592" stroke-width="0.85" stroke-linecap="butt"/>
<line x1="284.40" y1="431.30" x2="287.60" y2="431.30" stroke="#1f5592" stroke-width="0.85" stroke-linecap="butt"/>
<line x1="324.80" y1="463.48" x2="324.80" y2="454.39" stroke="#1f5592" stroke-width="0.85" stroke-linecap="butt"/>
<line x1="323.20" y1="463.48" x2="326.40" y2="463.48" stroke="#1f5592" stroke-width="0.85" stroke-linecap="butt"/>
<line x1="323.20" y1="454.39" x2="326.40" y2="454.39" stroke="#1f5592" stroke-width="0.85" stroke-linecap="butt"/>
<line x1="324.80" y1="438.31" x2="324.80" y2="401.02" stroke="#1f5592" stroke-width="0.85" stroke-linecap="butt"/>
<line x1="323.20" y1="438.31" x2="326.40" y2="438.31" stroke="#1f5592" stroke-width="0.85" stroke-linecap="butt"/>
<line x1="323.20" y1="401.02" x2="326.40" y2="401.02" stroke="#1f5592" stroke-width="0.85" stroke-linecap="butt"/>
<polyline points="247.30,448.71 286.00,441.71 324.80,419.57" fill="none" stroke="#1f5592" stroke-width="1.45" stroke-linejoin="miter" stroke-dasharray="3.2,2.2"/>
<polyline points="247.30,458.18 286.00,459.12 324.80,459.12" fill="none" stroke="#1f5592" stroke-width="1.45" stroke-linejoin="miter"/>
<circle cx="247.30" cy="448.71" r="1.35" fill="#1f5592" stroke="#1a1a1a" stroke-width="0.7"/>
<circle cx="286.00" cy="441.71" r="1.35" fill="#1f5592" stroke="#1a1a1a" stroke-width="0.7"/>
<circle cx="324.80" cy="419.57" r="1.35" fill="#1f5592" stroke="#1a1a1a" stroke-width="0.7"/>
<circle cx="247.30" cy="458.18" r="1.35" fill="#1f5592" stroke="#1a1a1a" stroke-width="0.7"/>
<circle cx="286.00" cy="459.12" r="1.35" fill="#1f5592" stroke="#1a1a1a" stroke-width="0.7"/>
<circle cx="324.80" cy="459.12" r="1.35" fill="#1f5592" stroke="#1a1a1a" stroke-width="0.7"/>
<text transform="translate(284.60,386.80)" font-size="9.7" text-anchor="middle" fill="#1e1e1e" textLength="8.6" lengthAdjust="spacingAndGlyphs">IR</text>
<line x1="232.50" y1="398.00" x2="241.10" y2="398.00" stroke="#1f5592" stroke-width="1.3" stroke-linecap="butt"/>
<line x1="234.70" y1="407.00" x2="243.60" y2="407.00" stroke="#1f5592" stroke-width="1.3" stroke-linecap="butt" stroke-dasharray="3.2,2.3"/>
<circle cx="236.50" cy="398.00" r="1.9" fill="#1f5592" stroke="#1a1a1a" stroke-width="0.75"/>
<circle cx="231.10" cy="407.00" r="1.9" fill="#1f5592" stroke="#1a1a1a" stroke-width="0.75"/>
<text transform="translate(246.80,400.45)" font-size="7.1" text-anchor="start" fill="#1e1e1e" textLength="14.2" lengthAdjust="spacingAndGlyphs">AML</text>
<text transform="translate(246.80,409.45)" font-size="7.1" text-anchor="start" fill="#1e1e1e" textLength="51.8" lengthAdjust="spacingAndGlyphs">AML+BM-MSCs</text>
<text transform="translate(209.95,432.50) rotate(-90)" font-size="9.94" text-anchor="middle" fill="#1e1e1e" textLength="48.4" lengthAdjust="spacingAndGlyphs">% leukemic cells</text>
<text transform="translate(286.30,492.80)" font-size="9.4" text-anchor="middle" fill="#1e1e1e" textLength="18.7" lengthAdjust="spacingAndGlyphs">Weeks</text>
<line x1="397.40" y1="394.40" x2="397.40" y2="470.60" stroke="#333333" stroke-width="1.05" stroke-linecap="butt"/>
<line x1="396.90" y1="470.10" x2="506.00" y2="470.10" stroke="#333333" stroke-width="1.05" stroke-linecap="butt"/>
<line x1="394.90" y1="470.10" x2="397.40" y2="470.10" stroke="#333333" stroke-width="0.95" stroke-linecap="butt"/>
<text transform="translate(392.60,472.75)" font-size="7.8" text-anchor="end" fill="#1e1e1e">0</text>
<line x1="394.90" y1="444.87" x2="397.40" y2="444.87" stroke="#333333" stroke-width="0.95" stroke-linecap="butt"/>
<text transform="translate(392.60,447.52)" font-size="7.8" text-anchor="end" fill="#1e1e1e">10</text>
<line x1="394.90" y1="419.63" x2="397.40" y2="419.63" stroke="#333333" stroke-width="0.95" stroke-linecap="butt"/>
<text transform="translate(392.60,422.28)" font-size="7.8" text-anchor="end" fill="#1e1e1e">20</text>
<line x1="394.90" y1="394.40" x2="397.40" y2="394.40" stroke="#333333" stroke-width="0.95" stroke-linecap="butt"/>
<text transform="translate(392.60,397.05)" font-size="7.8" text-anchor="end" fill="#1e1e1e">30</text>
<line x1="417.20" y1="470.10" x2="417.20" y2="472.60" stroke="#333333" stroke-width="0.95" stroke-linecap="butt"/>
<text transform="translate(417.20,482.30)" font-size="7.8" text-anchor="middle" fill="#1e1e1e">6</text>
<line x1="456.00" y1="470.10" x2="456.00" y2="472.60" stroke="#333333" stroke-width="0.95" stroke-linecap="butt"/>
<text transform="translate(456.00,482.30)" font-size="7.8" text-anchor="middle" fill="#1e1e1e">12</text>
<line x1="494.80" y1="470.10" x2="494.80" y2="472.60" stroke="#333333" stroke-width="0.95" stroke-linecap="butt"/>
<text transform="translate(494.80,482.30)" font-size="7.8" text-anchor="middle" fill="#1e1e1e">18</text>
<line x1="417.20" y1="446.63" x2="417.20" y2="417.61" stroke="#c8172f" stroke-width="0.85" stroke-linecap="butt"/>
<line x1="415.60" y1="446.63" x2="418.80" y2="446.63" stroke="#c8172f" stroke-width="0.85" stroke-linecap="butt"/>
<line x1="415.60" y1="417.61" x2="418.80" y2="417.61" stroke="#c8172f" stroke-width="0.85" stroke-linecap="butt"/>
<line x1="417.20" y1="442.34" x2="417.20" y2="413.32" stroke="#c8172f" stroke-width="0.85" stroke-linecap="butt"/>
<line x1="415.60" y1="442.34" x2="418.80" y2="442.34" stroke="#c8172f" stroke-width="0.85" stroke-linecap="butt"/>
<line x1="415.60" y1="413.32" x2="418.80" y2="413.32" stroke="#c8172f" stroke-width="0.85" stroke-linecap="butt"/>
<line x1="456.00" y1="430.99" x2="456.00" y2="401.21" stroke="#c8172f" stroke-width="0.85" stroke-linecap="butt"/>
<line x1="454.40" y1="430.99" x2="457.60" y2="430.99" stroke="#c8172f" stroke-width="0.85" stroke-linecap="butt"/>
<line x1="454.40" y1="401.21" x2="457.60" y2="401.21" stroke="#c8172f" stroke-width="0.85" stroke-linecap="butt"/>
<line x1="456.00" y1="425.18" x2="456.00" y2="394.40" stroke="#c8172f" stroke-width="0.85" stroke-linecap="butt"/>
<line x1="454.40" y1="425.18" x2="457.60" y2="425.18" stroke="#c8172f" stroke-width="0.85" stroke-linecap="butt"/>
<line x1="454.40" y1="394.40" x2="457.60" y2="394.40" stroke="#c8172f" stroke-width="0.85" stroke-linecap="butt"/>
<line x1="494.80" y1="425.94" x2="494.80" y2="399.45" stroke="#c8172f" stroke-width="0.85" stroke-linecap="butt"/>
<line x1="493.20" y1="425.94" x2="496.40" y2="425.94" stroke="#c8172f" stroke-width="0.85" stroke-linecap="butt"/>
<line x1="493.20" y1="399.45" x2="496.40" y2="399.45" stroke="#c8172f" stroke-width="0.85" stroke-linecap="butt"/>
<line x1="494.80" y1="423.42" x2="494.80" y2="394.40" stroke="#c8172f" stroke-width="0.85" stroke-linecap="butt"/>
<line x1="493.20" y1="423.42" x2="496.40" y2="423.42" stroke="#c8172f" stroke-width="0.85" stroke-linecap="butt"/>
<line x1="493.20" y1="394.40" x2="496.40" y2="394.40" stroke="#c8172f" stroke-width="0.85" stroke-linecap="butt"/>
<polyline points="417.20,427.71 456.00,409.54 494.80,408.28" fill="none" stroke="#c8172f" stroke-width="1.45" stroke-linejoin="miter" stroke-dasharray="3.2,2.2"/>
<polyline points="417.20,431.75 456.00,415.85 494.80,410.30" fill="none" stroke="#c8172f" stroke-width="1.45" stroke-linejoin="miter"/>
<circle cx="417.20" cy="427.71" r="1.35" fill="#c8172f" stroke="#1a1a1a" stroke-width="0.7"/>
<circle cx="456.00" cy="409.54" r="1.35" fill="#c8172f" stroke="#1a1a1a" stroke-width="0.7"/>
<circle cx="494.80" cy="408.28" r="1.35" fill="#c8172f" stroke="#1a1a1a" stroke-width="0.7"/>
<circle cx="417.20" cy="431.75" r="1.35" fill="#c8172f" stroke="#1a1a1a" stroke-width="0.7"/>
<circle cx="456.00" cy="415.85" r="1.35" fill="#c8172f" stroke="#1a1a1a" stroke-width="0.7"/>
<circle cx="494.80" cy="410.30" r="1.35" fill="#c8172f" stroke="#1a1a1a" stroke-width="0.7"/>
<text transform="translate(454.60,386.80)" font-size="9.7" text-anchor="middle" fill="#1e1e1e" textLength="13.3" lengthAdjust="spacingAndGlyphs">HR</text>
<line x1="404.70" y1="455.60" x2="413.30" y2="455.60" stroke="#c8172f" stroke-width="1.3" stroke-linecap="butt"/>
<line x1="405.60" y1="463.70" x2="414.30" y2="463.70" stroke="#c8172f" stroke-width="1.3" stroke-linecap="butt" stroke-dasharray="3.2,2.3"/>
<circle cx="408.70" cy="455.60" r="1.9" fill="#c8172f" stroke="#1a1a1a" stroke-width="0.75"/>
<circle cx="402.00" cy="463.70" r="1.9" fill="#c8172f" stroke="#1a1a1a" stroke-width="0.75"/>
<text transform="translate(417.50,458.05)" font-size="7.1" text-anchor="start" fill="#1e1e1e" textLength="14.2" lengthAdjust="spacingAndGlyphs">AML</text>
<text transform="translate(417.50,466.15)" font-size="7.1" text-anchor="start" fill="#1e1e1e" textLength="53.8" lengthAdjust="spacingAndGlyphs">AML +BM-MSCs</text>
<text transform="translate(377.85,432.70) rotate(-90)" font-size="8.82" text-anchor="middle" fill="#1e1e1e" textLength="48.6" lengthAdjust="spacingAndGlyphs">% leukemic cells</text>
<text transform="translate(456.40,492.80)" font-size="9.4" text-anchor="middle" fill="#1e1e1e" textLength="18.7" lengthAdjust="spacingAndGlyphs">Weeks</text>
<line x1="83.85" y1="580.30" x2="83.85" y2="577.30" stroke="#2a2a2a" stroke-width="0.9" stroke-linecap="butt"/>
<line x1="81.75" y1="577.30" x2="85.95" y2="577.30" stroke="#2a2a2a" stroke-width="0.9" stroke-linecap="butt"/>
<rect x="79.40" y="580.70" width="8.90" height="11.00" fill="#a6dea4" stroke="#262626" stroke-width="0.8"/>
<line x1="97.90" y1="569.80" x2="97.90" y2="564.70" stroke="#2a2a2a" stroke-width="0.9" stroke-linecap="butt"/>
<line x1="95.80" y1="564.70" x2="100.00" y2="564.70" stroke="#2a2a2a" stroke-width="0.9" stroke-linecap="butt"/>
<rect x="93.50" y="570.20" width="8.80" height="21.50" fill="#3cb54a" stroke="#262626" stroke-width="0.8"/>
<text transform="translate(97.90,565.20)" font-size="6.5" text-anchor="middle" fill="#1e1e1e" font-weight="bold">*</text>
<line x1="121.70" y1="563.80" x2="121.70" y2="556.00" stroke="#2a2a2a" stroke-width="0.9" stroke-linecap="butt"/>
<line x1="119.60" y1="556.00" x2="123.80" y2="556.00" stroke="#2a2a2a" stroke-width="0.9" stroke-linecap="butt"/>
<rect x="117.30" y="564.20" width="8.80" height="27.50" fill="#a6dea4" stroke="#262626" stroke-width="0.8"/>
<line x1="135.80" y1="544.00" x2="135.80" y2="534.40" stroke="#2a2a2a" stroke-width="0.9" stroke-linecap="butt"/>
<line x1="133.70" y1="534.40" x2="137.90" y2="534.40" stroke="#2a2a2a" stroke-width="0.9" stroke-linecap="butt"/>
<rect x="131.40" y="544.40" width="8.80" height="47.30" fill="#3cb54a" stroke="#262626" stroke-width="0.8"/>
<text transform="translate(135.80,534.90)" font-size="6.5" text-anchor="middle" fill="#1e1e1e" font-weight="bold">*</text>
<line x1="72.30" y1="516.70" x2="72.30" y2="592.20" stroke="#333333" stroke-width="1.05" stroke-linecap="butt"/>
<line x1="71.80" y1="591.70" x2="148.30" y2="591.70" stroke="#333333" stroke-width="1.05" stroke-linecap="butt"/>
<line x1="69.80" y1="591.70" x2="72.30" y2="591.70" stroke="#333333" stroke-width="0.95" stroke-linecap="butt"/>
<text transform="translate(66.00,594.35)" font-size="7.7" text-anchor="end" fill="#1e1e1e">0</text>
<line x1="69.80" y1="576.70" x2="72.30" y2="576.70" stroke="#333333" stroke-width="0.95" stroke-linecap="butt"/>
<text transform="translate(66.00,579.35)" font-size="7.7" text-anchor="end" fill="#1e1e1e">5</text>
<line x1="69.80" y1="561.70" x2="72.30" y2="561.70" stroke="#333333" stroke-width="0.95" stroke-linecap="butt"/>
<text transform="translate(66.00,564.35)" font-size="7.7" text-anchor="end" fill="#1e1e1e">10</text>
<line x1="69.80" y1="546.70" x2="72.30" y2="546.70" stroke="#333333" stroke-width="0.95" stroke-linecap="butt"/>
<text transform="translate(66.00,549.35)" font-size="7.7" text-anchor="end" fill="#1e1e1e">15</text>
<line x1="69.80" y1="531.70" x2="72.30" y2="531.70" stroke="#333333" stroke-width="0.95" stroke-linecap="butt"/>
<text transform="translate(66.00,534.35)" font-size="7.7" text-anchor="end" fill="#1e1e1e">20</text>
<line x1="69.80" y1="516.70" x2="72.30" y2="516.70" stroke="#333333" stroke-width="0.95" stroke-linecap="butt"/>
<text transform="translate(66.00,519.35)" font-size="7.7" text-anchor="end" fill="#1e1e1e">25</text>
<line x1="90.60" y1="591.70" x2="90.60" y2="594.00" stroke="#333333" stroke-width="0.95" stroke-linecap="butt"/>
<text transform="translate(90.85,603.60)" font-size="8.1" text-anchor="middle" fill="#1e1e1e" textLength="23.7" lengthAdjust="spacingAndGlyphs">Spleen</text>
<line x1="128.70" y1="591.70" x2="128.70" y2="594.00" stroke="#333333" stroke-width="0.95" stroke-linecap="butt"/>
<text transform="translate(128.75,603.60)" font-size="8.1" text-anchor="middle" fill="#1e1e1e" textLength="15.9" lengthAdjust="spacingAndGlyphs">Liver</text>
<text transform="translate(117.30,507.50)" font-size="9.7" text-anchor="middle" fill="#1e1e1e" textLength="10.9" lengthAdjust="spacingAndGlyphs">FR</text>
<rect x="75.60" y="511.60" width="8.90" height="3.70" fill="#3cb54a" stroke="#262626" stroke-width="0.8"/>
<rect x="75.60" y="521.20" width="8.90" height="3.70" fill="#a6dea4" stroke="#262626" stroke-width="0.8"/>
<text transform="translate(87.70,515.90)" font-size="7.4" text-anchor="start" fill="#1e1e1e" textLength="14.2" lengthAdjust="spacingAndGlyphs">AML</text>
<text transform="translate(87.70,525.40)" font-size="7.4" text-anchor="start" fill="#1e1e1e" textLength="51.3" lengthAdjust="spacingAndGlyphs">AML+BM-MSCs</text>
<text transform="translate(54.25,554.10) rotate(-90)" font-size="10.08" text-anchor="middle" fill="#1e1e1e" textLength="48.2" lengthAdjust="spacingAndGlyphs">% leukemic cells</text>
<line x1="256.00" y1="582.68" x2="256.00" y2="580.17" stroke="#2a2a2a" stroke-width="0.9" stroke-linecap="butt"/>
<line x1="253.90" y1="580.17" x2="258.10" y2="580.17" stroke="#2a2a2a" stroke-width="0.9" stroke-linecap="butt"/>
<rect x="251.60" y="583.08" width="8.80" height="8.62" fill="#8fb4d8" stroke="#262626" stroke-width="0.8"/>
<line x1="270.60" y1="566.63" x2="270.60" y2="559.11" stroke="#2a2a2a" stroke-width="0.9" stroke-linecap="butt"/>
<line x1="268.50" y1="559.11" x2="272.70" y2="559.11" stroke="#2a2a2a" stroke-width="0.9" stroke-linecap="butt"/>
<rect x="266.40" y="567.03" width="8.40" height="24.67" fill="#1f5692" stroke="#262626" stroke-width="0.8"/>
<text transform="translate(270.60,559.61)" font-size="6.5" text-anchor="middle" fill="#1e1e1e" font-weight="bold">*</text>
<line x1="294.15" y1="574.15" x2="294.15" y2="568.64" stroke="#2a2a2a" stroke-width="0.9" stroke-linecap="butt"/>
<line x1="292.05" y1="568.64" x2="296.25" y2="568.64" stroke="#2a2a2a" stroke-width="0.9" stroke-linecap="butt"/>
<rect x="290.00" y="574.55" width="8.30" height="17.15" fill="#8fb4d8" stroke="#262626" stroke-width="0.8"/>
<line x1="308.10" y1="550.59" x2="308.10" y2="541.07" stroke="#2a2a2a" stroke-width="0.9" stroke-linecap="butt"/>
<line x1="306.00" y1="541.07" x2="310.20" y2="541.07" stroke="#2a2a2a" stroke-width="0.9" stroke-linecap="butt"/>
<rect x="303.90" y="550.99" width="8.40" height="40.71" fill="#1f5692" stroke="#262626" stroke-width="0.8"/>
<text transform="translate(308.10,541.57)" font-size="6.5" text-anchor="middle" fill="#1e1e1e" font-weight="bold">*</text>
<line x1="244.30" y1="516.50" x2="244.30" y2="592.20" stroke="#333333" stroke-width="1.05" stroke-linecap="butt"/>
<line x1="243.80" y1="591.70" x2="320.40" y2="591.70" stroke="#333333" stroke-width="1.05" stroke-linecap="butt"/>
<line x1="241.80" y1="591.70" x2="244.30" y2="591.70" stroke="#333333" stroke-width="0.95" stroke-linecap="butt"/>
<text transform="translate(238.60,594.35)" font-size="7.7" text-anchor="end" fill="#1e1e1e">0</text>
<line x1="241.80" y1="566.63" x2="244.30" y2="566.63" stroke="#333333" stroke-width="0.95" stroke-linecap="butt"/>
<text transform="translate(238.60,569.28)" font-size="7.7" text-anchor="end" fill="#1e1e1e">5</text>
<line x1="241.80" y1="541.57" x2="244.30" y2="541.57" stroke="#333333" stroke-width="0.95" stroke-linecap="butt"/>
<text transform="translate(238.60,544.22)" font-size="7.7" text-anchor="end" fill="#1e1e1e">10</text>
<line x1="241.80" y1="516.50" x2="244.30" y2="516.50" stroke="#333333" stroke-width="0.95" stroke-linecap="butt"/>
<text transform="translate(238.60,519.15)" font-size="7.7" text-anchor="end" fill="#1e1e1e">15</text>
<line x1="263.50" y1="591.70" x2="263.50" y2="594.00" stroke="#333333" stroke-width="0.95" stroke-linecap="butt"/>
<text transform="translate(263.45,603.60)" font-size="8.1" text-anchor="middle" fill="#1e1e1e" textLength="23.1" lengthAdjust="spacingAndGlyphs">Spleen</text>
<line x1="301.20" y1="591.70" x2="301.20" y2="594.00" stroke="#333333" stroke-width="0.95" stroke-linecap="butt"/>
<text transform="translate(300.90,603.60)" font-size="8.1" text-anchor="middle" fill="#1e1e1e" textLength="14.8" lengthAdjust="spacingAndGlyphs">Liver</text>
<text transform="translate(284.60,507.50)" font-size="9.7" text-anchor="middle" fill="#1e1e1e" textLength="8.6" lengthAdjust="spacingAndGlyphs">IR</text>
<rect x="248.50" y="511.70" width="8.90" height="3.70" fill="#1f5692" stroke="#262626" stroke-width="0.8"/>
<rect x="248.50" y="521.40" width="8.90" height="3.70" fill="#8fb4d8" stroke="#262626" stroke-width="0.8"/>
<text transform="translate(260.40,516.00)" font-size="7.4" text-anchor="start" fill="#1e1e1e" textLength="14.2" lengthAdjust="spacingAndGlyphs">AML</text>
<text transform="translate(260.40,525.60)" font-size="7.4" text-anchor="start" fill="#1e1e1e" textLength="51.3" lengthAdjust="spacingAndGlyphs">AML+BM-MSCs</text>
<text transform="translate(225.75,554.50) rotate(-90)" font-size="9.1" text-anchor="middle" fill="#1e1e1e" textLength="48.0" lengthAdjust="spacingAndGlyphs">% leukemic cells</text>
<line x1="427.05" y1="560.45" x2="427.05" y2="553.58" stroke="#2a2a2a" stroke-width="0.9" stroke-linecap="butt"/>
<line x1="424.95" y1="553.58" x2="429.15" y2="553.58" stroke="#2a2a2a" stroke-width="0.9" stroke-linecap="butt"/>
<rect x="422.70" y="560.85" width="8.70" height="30.85" fill="#e88f9c" stroke="#262626" stroke-width="0.8"/>
<line x1="441.05" y1="556.70" x2="441.05" y2="549.33" stroke="#2a2a2a" stroke-width="0.9" stroke-linecap="butt"/>
<line x1="438.95" y1="549.33" x2="443.15" y2="549.33" stroke="#2a2a2a" stroke-width="0.9" stroke-linecap="butt"/>
<rect x="436.70" y="557.10" width="8.70" height="34.60" fill="#c71c36" stroke="#262626" stroke-width="0.8"/>
<line x1="464.90" y1="544.20" x2="464.90" y2="536.83" stroke="#2a2a2a" stroke-width="0.9" stroke-linecap="butt"/>
<line x1="462.80" y1="536.83" x2="467.00" y2="536.83" stroke="#2a2a2a" stroke-width="0.9" stroke-linecap="butt"/>
<rect x="460.70" y="544.60" width="8.40" height="47.10" fill="#e88f9c" stroke="#262626" stroke-width="0.8"/>
<line x1="479.10" y1="539.33" x2="479.10" y2="532.45" stroke="#2a2a2a" stroke-width="0.9" stroke-linecap="butt"/>
<line x1="477.00" y1="532.45" x2="481.20" y2="532.45" stroke="#2a2a2a" stroke-width="0.9" stroke-linecap="butt"/>
<rect x="474.70" y="539.73" width="8.80" height="51.98" fill="#c71c36" stroke="#262626" stroke-width="0.8"/>
<line x1="415.00" y1="516.70" x2="415.00" y2="592.20" stroke="#333333" stroke-width="1.05" stroke-linecap="butt"/>
<line x1="414.50" y1="591.70" x2="491.10" y2="591.70" stroke="#333333" stroke-width="1.05" stroke-linecap="butt"/>
<line x1="412.50" y1="591.70" x2="415.00" y2="591.70" stroke="#333333" stroke-width="0.95" stroke-linecap="butt"/>
<text transform="translate(409.60,594.35)" font-size="7.7" text-anchor="end" fill="#1e1e1e">0</text>
<line x1="412.50" y1="566.70" x2="415.00" y2="566.70" stroke="#333333" stroke-width="0.95" stroke-linecap="butt"/>
<text transform="translate(409.60,569.35)" font-size="7.7" text-anchor="end" fill="#1e1e1e">20</text>
<line x1="412.50" y1="541.70" x2="415.00" y2="541.70" stroke="#333333" stroke-width="0.95" stroke-linecap="butt"/>
<text transform="translate(409.60,544.35)" font-size="7.7" text-anchor="end" fill="#1e1e1e">40</text>
<line x1="412.50" y1="516.70" x2="415.00" y2="516.70" stroke="#333333" stroke-width="0.95" stroke-linecap="butt"/>
<text transform="translate(409.60,519.35)" font-size="7.7" text-anchor="end" fill="#1e1e1e">60</text>
<line x1="434.00" y1="591.70" x2="434.00" y2="594.00" stroke="#333333" stroke-width="0.95" stroke-linecap="butt"/>
<text transform="translate(434.30,603.60)" font-size="8.1" text-anchor="middle" fill="#1e1e1e" textLength="23.0" lengthAdjust="spacingAndGlyphs">Spleen</text>
<line x1="472.10" y1="591.70" x2="472.10" y2="594.00" stroke="#333333" stroke-width="0.95" stroke-linecap="butt"/>
<text transform="translate(471.85,603.60)" font-size="8.1" text-anchor="middle" fill="#1e1e1e" textLength="15.1" lengthAdjust="spacingAndGlyphs">Liver</text>
<text transform="translate(454.60,507.50)" font-size="9.7" text-anchor="middle" fill="#1e1e1e" textLength="13.3" lengthAdjust="spacingAndGlyphs">HR</text>
<rect x="419.00" y="511.70" width="8.90" height="3.70" fill="#c71c36" stroke="#262626" stroke-width="0.8"/>
<rect x="419.00" y="520.60" width="8.90" height="3.70" fill="#e88f9c" stroke="#262626" stroke-width="0.8"/>
<text transform="translate(430.80,516.00)" font-size="7.4" text-anchor="start" fill="#1e1e1e" textLength="14.2" lengthAdjust="spacingAndGlyphs">AML</text>
<text transform="translate(430.80,524.80)" font-size="7.4" text-anchor="start" fill="#1e1e1e" textLength="51.3" lengthAdjust="spacingAndGlyphs">AML+BM-MSCs</text>
<text transform="translate(395.75,554.60) rotate(-90)" font-size="9.8" text-anchor="middle" fill="#1e1e1e" textLength="47.2" lengthAdjust="spacingAndGlyphs">% leukemic cells</text>
<line x1="426.20" y1="547.70" x2="441.00" y2="547.70" stroke="#2a2a2a" stroke-width="0.85" stroke-linecap="butt"/>
<line x1="441.00" y1="547.70" x2="442.00" y2="548.90" stroke="#2a2a2a" stroke-width="0.85" stroke-linecap="butt"/>
<text transform="translate(433.35,546.70)" font-size="7.0" text-anchor="middle" fill="#1e1e1e" style="stroke-width:0.12px" textLength="8.3" lengthAdjust="spacingAndGlyphs">ns</text>
<line x1="465.20" y1="530.70" x2="479.90" y2="530.70" stroke="#2a2a2a" stroke-width="0.85" stroke-linecap="butt"/>
<line x1="479.90" y1="530.70" x2="480.90" y2="531.90" stroke="#2a2a2a" stroke-width="0.85" stroke-linecap="butt"/>
<text transform="translate(471.25,529.70)" font-size="7.0" text-anchor="middle" fill="#1e1e1e" style="stroke-width:0.12px" textLength="6.9" lengthAdjust="spacingAndGlyphs">ns</text>
<g class="pa">
<path d="M65.30,32.30 L67.20,33.00 L68.30,35.20 L68.00,38.00 L66.90,40.00 L66.90,41.20 L71.00,42.00 L73.20,43.80 L73.80,47.00 L74.60,52.00 L75.60,56.50 L76.40,60.00 L78.20,62.00 L78.40,65.50 L77.30,66.80 L76.20,65.20 L75.60,63.20 L74.30,61.20 L73.00,57.00 L71.80,52.50 L71.00,49.50 L70.60,48.80 L70.00,52.00 L69.60,55.20 L70.20,58.50 L70.50,61.50 L70.00,66.00 L69.10,71.00 L68.60,75.00 L68.40,80.00 L68.10,84.50 L68.80,87.00 L69.00,87.80 L65.90,87.80 L65.80,84.00 L65.70,78.00 L65.60,72.00 L65.50,66.00 L65.30,63.50 L65.10,66.00 L65.00,72.00 L64.90,78.00 L64.80,84.00 L64.70,87.80 L61.60,87.80 L61.80,87.00 L62.50,84.50 L62.20,80.00 L62.00,75.00 L61.50,71.00 L60.60,66.00 L60.10,61.50 L60.40,58.50 L61.00,55.20 L60.60,52.00 L60.00,48.80 L59.60,49.50 L58.80,52.50 L57.60,57.00 L56.30,61.20 L55.00,63.20 L54.40,65.20 L53.30,66.80 L52.20,65.50 L52.40,62.00 L54.20,60.00 L55.00,56.50 L56.00,52.00 L56.80,47.00 L57.40,43.80 L59.60,42.00 L63.70,41.20 L63.70,40.00 L62.60,38.00 L62.30,35.20 L63.40,33.00 Z" fill="#dc532a" stroke="#5e220e" stroke-width="0.55" stroke-linejoin="round"/>
<path d="M65.3,64.5 L65.3,80 M61.5,47.5 q1.5,0.6 2,1.8 M69.2,47.5 q-1.5,0.6 -2,1.8" stroke="#9b3a1a" stroke-width="0.3" fill="none"/>
<line x1="79.5" y1="59.4" x2="88.8" y2="59.4" stroke="#1e1e1e" stroke-width="0.95" stroke-linecap="butt"/>
<polygon points="93.60,59.40 88.00,61.53 89.30,59.40 88.00,57.27" fill="#1e1e1e"/>
<text x="96.85" y="38.20" font-size="8.0" fill="#1e1e1e" textLength="21.10" lengthAdjust="spacingAndGlyphs">Whole</text>
<text x="101.95" y="48.20" font-size="8.0" fill="#1e1e1e" textLength="11.30" lengthAdjust="spacingAndGlyphs">BM</text>
<circle cx="100.2" cy="57.2" r="3.2" fill="#1b5490" stroke="#0a1d36" stroke-width="0.75"/>
<path d="M98.60,56.72 q1.60,-1.44 3.20,0" stroke="#0a1d36" stroke-width="0.35" fill="none" opacity="0.6"/>
<circle cx="108.5" cy="53.5" r="3.2" fill="#1b5490" stroke="#0a1d36" stroke-width="0.75"/>
<path d="M106.90,53.02 q1.60,-1.44 3.20,0" stroke="#0a1d36" stroke-width="0.35" fill="none" opacity="0.6"/>
<circle cx="98.6" cy="63.2" r="3.1" fill="#1b5490" stroke="#0a1d36" stroke-width="0.75"/>
<path d="M97.05,62.73 q1.55,-1.40 3.10,0" stroke="#0a1d36" stroke-width="0.35" fill="none" opacity="0.6"/>
<circle cx="104.5" cy="60.5" r="3.2" fill="#1b5490" stroke="#0a1d36" stroke-width="0.75"/>
<path d="M102.90,60.02 q1.60,-1.44 3.20,0" stroke="#0a1d36" stroke-width="0.35" fill="none" opacity="0.6"/>
<circle cx="111.5" cy="58.5" r="3.2" fill="#1b5490" stroke="#0a1d36" stroke-width="0.75"/>
<path d="M109.90,58.02 q1.60,-1.44 3.20,0" stroke="#0a1d36" stroke-width="0.35" fill="none" opacity="0.6"/>
<circle cx="116.2" cy="60.5" r="2.7" fill="#1b5490" stroke="#0a1d36" stroke-width="0.75"/>
<path d="M114.85,60.09 q1.35,-1.22 2.70,0" stroke="#0a1d36" stroke-width="0.35" fill="none" opacity="0.6"/>
<circle cx="101" cy="67" r="2.9" fill="#1b5490" stroke="#0a1d36" stroke-width="0.75"/>
<path d="M99.55,66.56 q1.45,-1.30 2.90,0" stroke="#0a1d36" stroke-width="0.35" fill="none" opacity="0.6"/>
<circle cx="108.8" cy="66.3" r="3.2" fill="#1b5490" stroke="#0a1d36" stroke-width="0.75"/>
<path d="M107.20,65.82 q1.60,-1.44 3.20,0" stroke="#0a1d36" stroke-width="0.35" fill="none" opacity="0.6"/>
<circle cx="113" cy="63.5" r="3.0" fill="#1b5490" stroke="#0a1d36" stroke-width="0.75"/>
<path d="M111.50,63.05 q1.50,-1.35 3.00,0" stroke="#0a1d36" stroke-width="0.35" fill="none" opacity="0.6"/>
<circle cx="107" cy="62.5" r="3.0" fill="#1b5490" stroke="#0a1d36" stroke-width="0.75"/>
<path d="M105.50,62.05 q1.50,-1.35 3.00,0" stroke="#0a1d36" stroke-width="0.35" fill="none" opacity="0.6"/>
<circle cx="103.8" cy="55.5" r="2.9" fill="#d2263a" stroke="#4a0c14" stroke-width="0.75"/>
<path d="M102.35,55.06 q1.45,-1.30 2.90,0" stroke="#4a0c14" stroke-width="0.35" fill="none" opacity="0.6"/>
<circle cx="114.2" cy="52.8" r="2.5" fill="#d2263a" stroke="#4a0c14" stroke-width="0.75"/>
<path d="M112.95,52.42 q1.25,-1.12 2.50,0" stroke="#4a0c14" stroke-width="0.35" fill="none" opacity="0.6"/>
<circle cx="103.3" cy="65.6" r="3.0" fill="#d2263a" stroke="#4a0c14" stroke-width="0.75"/>
<path d="M101.80,65.15 q1.50,-1.35 3.00,0" stroke="#4a0c14" stroke-width="0.35" fill="none" opacity="0.6"/>
<circle cx="115.4" cy="65.2" r="2.4" fill="#d2263a" stroke="#4a0c14" stroke-width="0.75"/>
<path d="M114.20,64.84 q1.20,-1.08 2.40,0" stroke="#4a0c14" stroke-width="0.35" fill="none" opacity="0.6"/>
<path d="M98.2,61.0 C100.5,59.8 103,61.2 105.5,60.0 C108.5,58.6 111.5,57.4 117.5,57.8" stroke="#dfe6ee" stroke-width="1.6" fill="none" stroke-dasharray="3,0.8,2,1"/>
<path d="M99.5,63.2 C102,62 105,62.6 108,61.6 C110.5,60.8 112.5,61.2 114.5,60.2" stroke="#c9d3de" stroke-width="1.0" fill="none" stroke-dasharray="2.2,1.2"/>
<circle cx="101.5" cy="60.6" r="0.6" fill="#1d4f86"/>
<circle cx="106.8" cy="59.6" r="0.6" fill="#1d4f86"/>
<circle cx="111.8" cy="58.2" r="0.6" fill="#1d4f86"/>
<circle cx="104.2" cy="62.4" r="0.6" fill="#1d4f86"/>
<circle cx="109.5" cy="61.2" r="0.6" fill="#1d4f86"/>
<line x1="123.3" y1="58.2" x2="134.12909654310815" y2="50.53524984935851" stroke="#1e1e1e" stroke-width="0.95" stroke-linecap="butt"/>
<polygon points="138.70,47.30 134.77,52.83 134.54,50.25 132.18,49.17" fill="#1e1e1e"/>
<line x1="123.3" y1="61.2" x2="134.12909654310815" y2="68.86475015064148" stroke="#1e1e1e" stroke-width="0.95" stroke-linecap="butt"/>
<polygon points="138.70,72.10 132.18,70.23 134.54,69.15 134.77,66.57" fill="#1e1e1e"/>
<text x="134.05" y="12.20" font-size="7.7" fill="#1e1e1e" textLength="57.10" lengthAdjust="spacingAndGlyphs"><tspan font-style="italic">In vitro</tspan>-expanded</text>
<text x="139.85" y="22.00" font-size="7.7" fill="#1e1e1e" textLength="45.60" lengthAdjust="spacingAndGlyphs">early passage</text>
<text x="140.45" y="31.80" font-size="7.7" fill="#1e1e1e" textLength="44.40" lengthAdjust="spacingAndGlyphs">MSC fraction</text>
<defs><clipPath id="meshclip"><path d="M146,38.5 L151,35.4 L160,34.8 L168,35.6 L175,36.8 L180,39 L181.5,43 L181,47 L181.5,51 L176,52.6 L167,53 L157,53.3 L148,53 L142.8,51.8 L144,47.5 L142.8,44 L145,41 Z"/></clipPath></defs>
<g clip-path="url(#meshclip)">
<rect x="140" y="33" width="44" height="22" fill="#f0f0f0"/>
<path d="M136.98,37.52 Q142.38,36.16 146.87,32.86 Q141.47,34.22 136.98,37.52 Z" fill="#c4c4c4" stroke="#4a4a4a" stroke-width="0.4"/>
<path d="M141.42,34.20 Q147.10,36.07 153.03,35.26 Q147.35,33.39 141.42,34.20 Z" fill="#c4c4c4" stroke="#4a4a4a" stroke-width="0.4"/>
<path d="M149.40,36.44 Q153.74,36.36 157.35,33.95 Q153.01,34.03 149.40,36.44 Z" fill="#c4c4c4" stroke="#4a4a4a" stroke-width="0.4"/>
<path d="M154.25,33.49 Q159.84,35.49 165.78,35.45 Q160.19,33.45 154.25,33.49 Z" fill="#c4c4c4" stroke="#4a4a4a" stroke-width="0.4"/>
<path d="M158.46,37.16 Q164.30,35.82 169.36,32.61 Q163.52,33.95 158.46,37.16 Z" fill="#c4c4c4" stroke="#4a4a4a" stroke-width="0.4"/>
<path d="M167.54,33.43 Q170.66,36.39 174.95,36.59 Q171.83,33.64 167.54,33.43 Z" fill="#c4c4c4" stroke="#4a4a4a" stroke-width="0.4"/>
<path d="M170.32,34.46 Q174.31,36.06 178.55,35.36 Q174.56,33.76 170.32,34.46 Z" fill="#c4c4c4" stroke="#4a4a4a" stroke-width="0.4"/>
<path d="M176.42,34.13 Q179.89,36.28 183.96,36.34 Q180.49,34.19 176.42,34.13 Z" fill="#c4c4c4" stroke="#4a4a4a" stroke-width="0.4"/>
<path d="M139.24,38.35 Q144.63,39.03 149.76,37.25 Q144.37,36.57 139.24,38.35 Z" fill="#c4c4c4" stroke="#4a4a4a" stroke-width="0.4"/>
<path d="M142.84,37.26 Q148.77,39.64 155.14,39.08 Q149.21,36.70 142.84,37.26 Z" fill="#c4c4c4" stroke="#4a4a4a" stroke-width="0.4"/>
<path d="M150.37,39.62 Q156.02,38.99 160.76,35.85 Q155.11,36.48 150.37,39.62 Z" fill="#c4c4c4" stroke="#4a4a4a" stroke-width="0.4"/>
<path d="M155.73,37.74 Q160.80,39.14 165.88,37.74 Q160.80,36.33 155.73,37.74 Z" fill="#c4c4c4" stroke="#4a4a4a" stroke-width="0.4"/>
<path d="M161.06,39.49 Q166.10,39.51 170.51,37.08 Q165.47,37.07 161.06,39.49 Z" fill="#c4c4c4" stroke="#4a4a4a" stroke-width="0.4"/>
<path d="M166.86,37.51 Q172.53,38.82 178.31,38.02 Q172.63,36.72 166.86,37.51 Z" fill="#c4c4c4" stroke="#4a4a4a" stroke-width="0.4"/>
<path d="M173.58,38.68 Q177.59,39.26 181.29,37.59 Q177.28,37.01 173.58,38.68 Z" fill="#c4c4c4" stroke="#4a4a4a" stroke-width="0.4"/>
<path d="M179.56,38.33 Q184.63,38.45 189.26,36.40 Q184.20,36.28 179.56,38.33 Z" fill="#c4c4c4" stroke="#4a4a4a" stroke-width="0.4"/>
<path d="M137.15,42.82 Q142.36,42.76 146.71,39.88 Q141.49,39.94 137.15,42.82 Z" fill="#c4c4c4" stroke="#4a4a4a" stroke-width="0.4"/>
<path d="M144.89,39.09 Q148.37,41.92 152.86,42.19 Q149.37,39.36 144.89,39.09 Z" fill="#c4c4c4" stroke="#4a4a4a" stroke-width="0.4"/>
<path d="M146.15,41.84 Q151.99,41.66 157.29,39.20 Q151.45,39.38 146.15,41.84 Z" fill="#c4c4c4" stroke="#4a4a4a" stroke-width="0.4"/>
<path d="M152.51,37.93 Q156.68,41.59 162.14,42.57 Q157.97,38.90 152.51,37.93 Z" fill="#c4c4c4" stroke="#4a4a4a" stroke-width="0.4"/>
<path d="M160.01,38.87 Q164.00,41.56 168.81,41.58 Q164.82,38.90 160.01,38.87 Z" fill="#c4c4c4" stroke="#4a4a4a" stroke-width="0.4"/>
<path d="M165.33,39.89 Q170.28,41.71 175.50,41.06 Q170.56,39.24 165.33,39.89 Z" fill="#c4c4c4" stroke="#4a4a4a" stroke-width="0.4"/>
<path d="M168.96,42.46 Q175.09,42.40 180.82,40.21 Q174.69,40.27 168.96,42.46 Z" fill="#c4c4c4" stroke="#4a4a4a" stroke-width="0.4"/>
<path d="M176.26,39.45 Q182.10,41.77 188.38,41.61 Q182.54,39.30 176.26,39.45 Z" fill="#c4c4c4" stroke="#4a4a4a" stroke-width="0.4"/>
<path d="M140.96,42.62 Q145.23,44.47 149.87,44.10 Q145.60,42.24 140.96,42.62 Z" fill="#c4c4c4" stroke="#4a4a4a" stroke-width="0.4"/>
<path d="M145.13,44.65 Q151.26,44.44 156.84,41.87 Q150.70,42.08 145.13,44.65 Z" fill="#c4c4c4" stroke="#4a4a4a" stroke-width="0.4"/>
<path d="M150.97,42.36 Q155.32,45.50 160.64,46.19 Q156.29,43.06 150.97,42.36 Z" fill="#c4c4c4" stroke="#4a4a4a" stroke-width="0.4"/>
<path d="M158.45,42.30 Q162.53,45.22 167.52,45.72 Q163.44,42.80 158.45,42.30 Z" fill="#c4c4c4" stroke="#4a4a4a" stroke-width="0.4"/>
<path d="M163.50,42.81 Q167.82,44.95 172.63,44.78 Q168.32,42.64 163.50,42.81 Z" fill="#c4c4c4" stroke="#4a4a4a" stroke-width="0.4"/>
<path d="M167.61,41.64 Q172.61,44.52 178.37,44.60 Q173.37,41.72 167.61,41.64 Z" fill="#c4c4c4" stroke="#4a4a4a" stroke-width="0.4"/>
<path d="M174.49,44.75 Q179.74,45.58 184.70,43.64 Q179.44,42.81 174.49,44.75 Z" fill="#c4c4c4" stroke="#4a4a4a" stroke-width="0.4"/>
<path d="M178.28,42.75 Q182.55,44.97 187.31,44.30 Q183.04,42.08 178.28,42.75 Z" fill="#c4c4c4" stroke="#4a4a4a" stroke-width="0.4"/>
<path d="M138.08,46.01 Q141.90,47.99 146.17,47.48 Q142.35,45.50 138.08,46.01 Z" fill="#c4c4c4" stroke="#4a4a4a" stroke-width="0.4"/>
<path d="M142.53,45.50 Q147.09,47.44 152.03,47.09 Q147.48,45.15 142.53,45.50 Z" fill="#c4c4c4" stroke="#4a4a4a" stroke-width="0.4"/>
<path d="M147.67,45.05 Q151.81,47.42 156.58,47.17 Q152.44,44.80 147.67,45.05 Z" fill="#c4c4c4" stroke="#4a4a4a" stroke-width="0.4"/>
<path d="M154.56,47.17 Q159.29,48.14 163.99,47.07 Q159.27,46.11 154.56,47.17 Z" fill="#c4c4c4" stroke="#4a4a4a" stroke-width="0.4"/>
<path d="M158.91,47.49 Q164.50,47.35 169.55,44.94 Q163.96,45.08 158.91,47.49 Z" fill="#c4c4c4" stroke="#4a4a4a" stroke-width="0.4"/>
<path d="M165.74,47.88 Q169.71,48.29 173.23,46.38 Q169.25,45.98 165.74,47.88 Z" fill="#c4c4c4" stroke="#4a4a4a" stroke-width="0.4"/>
<path d="M170.35,46.51 Q174.70,47.98 179.05,46.52 Q174.71,45.06 170.35,46.51 Z" fill="#c4c4c4" stroke="#4a4a4a" stroke-width="0.4"/>
<path d="M177.07,44.69 Q181.40,47.44 186.52,47.70 Q182.19,44.95 177.07,44.69 Z" fill="#c4c4c4" stroke="#4a4a4a" stroke-width="0.4"/>
<path d="M138.29,50.89 Q144.39,50.83 149.81,48.01 Q143.71,48.08 138.29,50.89 Z" fill="#c4c4c4" stroke="#4a4a4a" stroke-width="0.4"/>
<path d="M145.78,49.11 Q150.32,51.14 155.25,50.51 Q150.71,48.49 145.78,49.11 Z" fill="#c4c4c4" stroke="#4a4a4a" stroke-width="0.4"/>
<path d="M152.04,48.42 Q157.17,50.71 162.80,50.71 Q157.66,48.42 152.04,48.42 Z" fill="#c4c4c4" stroke="#4a4a4a" stroke-width="0.4"/>
<path d="M156.61,51.01 Q161.44,50.59 165.52,47.99 Q160.70,48.41 156.61,51.01 Z" fill="#c4c4c4" stroke="#4a4a4a" stroke-width="0.4"/>
<path d="M162.11,48.36 Q166.10,50.54 170.64,50.75 Q166.65,48.57 162.11,48.36 Z" fill="#c4c4c4" stroke="#4a4a4a" stroke-width="0.4"/>
<path d="M167.16,48.28 Q171.76,51.15 177.16,51.77 Q172.55,48.90 167.16,48.28 Z" fill="#c4c4c4" stroke="#4a4a4a" stroke-width="0.4"/>
<path d="M175.67,48.04 Q179.19,50.54 183.51,50.53 Q179.99,48.03 175.67,48.04 Z" fill="#c4c4c4" stroke="#4a4a4a" stroke-width="0.4"/>
<path d="M179.60,50.86 Q184.60,51.12 189.05,48.82 Q184.05,48.56 179.60,50.86 Z" fill="#c4c4c4" stroke="#4a4a4a" stroke-width="0.4"/>
<path d="M137.14,50.96 Q141.39,53.41 146.30,53.56 Q142.05,51.10 137.14,50.96 Z" fill="#c4c4c4" stroke="#4a4a4a" stroke-width="0.4"/>
<path d="M142.17,51.96 Q146.58,53.53 151.05,52.14 Q146.64,50.56 142.17,51.96 Z" fill="#c4c4c4" stroke="#4a4a4a" stroke-width="0.4"/>
<path d="M145.92,53.56 Q152.04,54.20 157.79,52.04 Q151.68,51.40 145.92,53.56 Z" fill="#c4c4c4" stroke="#4a4a4a" stroke-width="0.4"/>
<path d="M155.55,50.94 Q159.08,53.54 163.46,53.39 Q159.93,50.80 155.55,50.94 Z" fill="#c4c4c4" stroke="#4a4a4a" stroke-width="0.4"/>
<path d="M160.04,54.49 Q164.02,53.90 167.03,51.22 Q163.04,51.81 160.04,54.49 Z" fill="#c4c4c4" stroke="#4a4a4a" stroke-width="0.4"/>
<path d="M163.64,53.53 Q169.33,53.10 174.39,50.46 Q168.70,50.89 163.64,53.53 Z" fill="#c4c4c4" stroke="#4a4a4a" stroke-width="0.4"/>
<path d="M169.07,54.26 Q175.11,53.40 180.23,50.09 Q174.20,50.95 169.07,54.26 Z" fill="#c4c4c4" stroke="#4a4a4a" stroke-width="0.4"/>
<path d="M176.88,51.77 Q181.58,53.70 186.63,53.11 Q181.93,51.19 176.88,51.77 Z" fill="#c4c4c4" stroke="#4a4a4a" stroke-width="0.4"/>
</g>
<ellipse cx="162" cy="37.9" rx="1.8" ry="1.3" fill="#1f5fa6" stroke="#0e3461" stroke-width="0.35"/>
<ellipse cx="155.3" cy="40.7" rx="1.8" ry="1.3" fill="#1f5fa6" stroke="#0e3461" stroke-width="0.35"/>
<ellipse cx="163.6" cy="41.3" rx="1.8" ry="1.3" fill="#1f5fa6" stroke="#0e3461" stroke-width="0.35"/>
<ellipse cx="170.9" cy="40.7" rx="1.8" ry="1.3" fill="#1f5fa6" stroke="#0e3461" stroke-width="0.35"/>
<ellipse cx="158.2" cy="44.9" rx="1.8" ry="1.3" fill="#1f5fa6" stroke="#0e3461" stroke-width="0.35"/>
<ellipse cx="169.2" cy="44.5" rx="1.8" ry="1.3" fill="#1f5fa6" stroke="#0e3461" stroke-width="0.35"/>
<ellipse cx="154" cy="48.5" rx="1.8" ry="1.3" fill="#1f5fa6" stroke="#0e3461" stroke-width="0.35"/>
<ellipse cx="162.5" cy="48.1" rx="1.8" ry="1.3" fill="#1f5fa6" stroke="#0e3461" stroke-width="0.35"/>
<ellipse cx="171.8" cy="48.1" rx="1.8" ry="1.3" fill="#1f5fa6" stroke="#0e3461" stroke-width="0.35"/>
<circle cx="157.9" cy="63.4" r="3.1" fill="#d2263a" stroke="#4a0c14" stroke-width="0.75"/>
<path d="M156.35,62.93 q1.55,-1.40 3.10,0" stroke="#4a0c14" stroke-width="0.35" fill="none" opacity="0.6"/>
<circle cx="168" cy="61.2" r="2.6" fill="#d2263a" stroke="#4a0c14" stroke-width="0.75"/>
<path d="M166.70,60.81 q1.30,-1.17 2.60,0" stroke="#4a0c14" stroke-width="0.35" fill="none" opacity="0.6"/>
<circle cx="157.2" cy="74.2" r="3.2" fill="#d2263a" stroke="#4a0c14" stroke-width="0.75"/>
<path d="M155.60,73.72 q1.60,-1.44 3.20,0" stroke="#4a0c14" stroke-width="0.35" fill="none" opacity="0.6"/>
<circle cx="169.4" cy="73.5" r="2.5" fill="#d2263a" stroke="#4a0c14" stroke-width="0.75"/>
<path d="M168.15,73.12 q1.25,-1.12 2.50,0" stroke="#4a0c14" stroke-width="0.35" fill="none" opacity="0.6"/>
<circle cx="154.2" cy="67.5" r="3.0" fill="#1b5290" stroke="#0a1d36" stroke-width="0.75"/>
<path d="M152.70,67.05 q1.50,-1.35 3.00,0" stroke="#0a1d36" stroke-width="0.35" fill="none" opacity="0.6"/>
<circle cx="161.5" cy="59.8" r="2.7" fill="#1b5290" stroke="#0a1d36" stroke-width="0.75"/>
<path d="M160.15,59.39 q1.35,-1.22 2.70,0" stroke="#0a1d36" stroke-width="0.35" fill="none" opacity="0.6"/>
<circle cx="164.5" cy="65.5" r="3.1" fill="#1b5290" stroke="#0a1d36" stroke-width="0.75"/>
<path d="M162.95,65.03 q1.55,-1.40 3.10,0" stroke="#0a1d36" stroke-width="0.35" fill="none" opacity="0.6"/>
<circle cx="160.2" cy="69.8" r="3.0" fill="#1b5290" stroke="#0a1d36" stroke-width="0.75"/>
<path d="M158.70,69.35 q1.50,-1.35 3.00,0" stroke="#0a1d36" stroke-width="0.35" fill="none" opacity="0.6"/>
<circle cx="166.8" cy="62.8" r="2.4" fill="#1b5290" stroke="#0a1d36" stroke-width="0.75"/>
<path d="M165.60,62.44 q1.20,-1.08 2.40,0" stroke="#0a1d36" stroke-width="0.35" fill="none" opacity="0.6"/>
<circle cx="170.2" cy="67.2" r="3.0" fill="#1b5290" stroke="#0a1d36" stroke-width="0.75"/>
<path d="M168.70,66.75 q1.50,-1.35 3.00,0" stroke="#0a1d36" stroke-width="0.35" fill="none" opacity="0.6"/>
<circle cx="163.8" cy="75.0" r="2.9" fill="#1b5290" stroke="#0a1d36" stroke-width="0.75"/>
<path d="M162.35,74.56 q1.45,-1.30 2.90,0" stroke="#0a1d36" stroke-width="0.35" fill="none" opacity="0.6"/>
<circle cx="166.8" cy="70.8" r="3.0" fill="#1b5290" stroke="#0a1d36" stroke-width="0.75"/>
<path d="M165.30,70.35 q1.50,-1.35 3.00,0" stroke="#0a1d36" stroke-width="0.35" fill="none" opacity="0.6"/>
<circle cx="154.3" cy="71.8" r="2.6" fill="#1b5290" stroke="#0a1d36" stroke-width="0.75"/>
<path d="M153.00,71.41 q1.30,-1.17 2.60,0" stroke="#0a1d36" stroke-width="0.35" fill="none" opacity="0.6"/>
<circle cx="172.0" cy="70.5" r="2.1" fill="#1b5290" stroke="#0a1d36" stroke-width="0.75"/>
<path d="M170.95,70.19 q1.05,-0.95 2.10,0" stroke="#0a1d36" stroke-width="0.35" fill="none" opacity="0.6"/>
<circle cx="157.4" cy="63.0" r="2.5" fill="#d2263a" stroke="#4a0c14" stroke-width="0.75"/>
<path d="M156.15,62.62 q1.25,-1.12 2.50,0" stroke="#4a0c14" stroke-width="0.35" fill="none" opacity="0.6"/>
<circle cx="157.0" cy="74.6" r="2.6" fill="#d2263a" stroke="#4a0c14" stroke-width="0.75"/>
<path d="M155.70,74.21 q1.30,-1.17 2.60,0" stroke="#4a0c14" stroke-width="0.35" fill="none" opacity="0.6"/>
<path d="M174,71.0 C178.5,74 180.5,79.5 178,83.2 C177,84.8 175.5,85.8 174.3,86.4" fill="none" stroke="#1e1e1e" stroke-width="0.95"/>
<polygon points="171.6,87.6 174.4,83.5 174.9,85.6 176.6,87.0" fill="#1e1e1e"/>
<circle cx="159.3" cy="86.8" r="2.9" fill="#38b0ea" stroke="#0f4c75" stroke-width="0.5"/>
<path d="M157.85,86.51 q1.45,-1.30 2.90,0" stroke="#1a6fa0" stroke-width="0.35" fill="none"/>
<circle cx="165.3" cy="84.6" r="2.9" fill="#38b0ea" stroke="#0f4c75" stroke-width="0.5"/>
<path d="M163.85,84.31 q1.45,-1.30 2.90,0" stroke="#1a6fa0" stroke-width="0.35" fill="none"/>
<circle cx="168.5" cy="90.6" r="2.8" fill="#38b0ea" stroke="#0f4c75" stroke-width="0.5"/>
<path d="M167.10,90.32 q1.40,-1.26 2.80,0" stroke="#1a6fa0" stroke-width="0.35" fill="none"/>
<circle cx="162.3" cy="90.5" r="2.9" fill="#38b0ea" stroke="#0f4c75" stroke-width="0.5"/>
<path d="M160.85,90.21 q1.45,-1.30 2.90,0" stroke="#1a6fa0" stroke-width="0.35" fill="none"/>
<circle cx="158.8" cy="92" r="2.5" fill="#38b0ea" stroke="#0f4c75" stroke-width="0.5"/>
<path d="M157.55,91.75 q1.25,-1.12 2.50,0" stroke="#1a6fa0" stroke-width="0.35" fill="none"/>
<circle cx="164.5" cy="94.2" r="2.6" fill="#38b0ea" stroke="#0f4c75" stroke-width="0.5"/>
<path d="M163.20,93.94 q1.30,-1.17 2.60,0" stroke="#1a6fa0" stroke-width="0.35" fill="none"/>
<text x="152.65" y="101.50" font-size="8.1" fill="#1e1e1e" textLength="18.60" lengthAdjust="spacingAndGlyphs">T-cell</text>
<text x="146.35" y="110.80" font-size="8.1" fill="#1e1e1e" textLength="30.90" lengthAdjust="spacingAndGlyphs">depletion</text>
<text x="140.85" y="120.00" font-size="8.1" fill="#1e1e1e" textLength="41.70" lengthAdjust="spacingAndGlyphs">(OKT3 mAb)</text>
<line x1="183.5" y1="48.2" x2="193.75014279646228" y2="55.07929046742436" stroke="#1e1e1e" stroke-width="0.95" stroke-linecap="butt"/>
<polygon points="198.40,58.20 191.84,56.49 194.17,55.36 194.33,52.77" fill="#1e1e1e"/>
<line x1="183.5" y1="70.8" x2="192.8493176103405" y2="64.96496489567402" stroke="#1e1e1e" stroke-width="0.95" stroke-linecap="butt"/>
<polygon points="197.60,62.00 193.36,67.29 193.27,64.70 190.98,63.49" fill="#1e1e1e"/>
<path d="M202.8,49.8 C206.5,49.6 209,46.2 212.5,45.0 C215.8,43.9 219.5,44.0 222.2,47.6 L221.0,48.0 C218.8,45.6 216,45.4 213,46.2 C209.5,47.2 207,50.2 202.8,49.8 Z" fill="#9a9a9a" stroke="#333" stroke-width="0.45"/>
<path d="M220.4,47.6 C224.6,47.6 228.2,50.2 229.5,54.0 C231.2,55.6 232.0,58.6 230.6,61.3 C229.6,65.2 225.4,69.4 220.4,69.7 C215.4,69.4 211.2,65.2 210.2,61.3 C208.8,58.6 209.6,55.6 211.3,54.0 C212.6,50.2 216.2,47.6 220.4,47.6 Z" fill="#fff" stroke="#262626" stroke-width="0.75"/>
<path d="M212.3,59.6 C212.5,56.8 214.0,55.0 216.0,55.0 C218.0,55.0 219.6,56.8 219.8,59.6 M228.5,59.6 C228.3,56.8 226.8,55.0 224.8,55.0 C222.8,55.0 221.2,56.8 221.0,59.6" fill="none" stroke="#262626" stroke-width="0.7"/>
<circle cx="218.2" cy="65.2" r="0.75" fill="#1e1e1e"/><circle cx="222.8" cy="65.2" r="0.75" fill="#1e1e1e"/>
<ellipse cx="220.4" cy="68.9" rx="1.9" ry="0.9" fill="#3a3a3a"/>
<path d="M217.3,68.1 L213.2,66.8 M217.3,68.6 L213.6,69.6 M217.5,69.0 L215.4,71.0 M223.5,68.1 L227.6,66.8 M223.5,68.6 L227.2,69.6 M223.3,69.0 L225.4,71.0" stroke="#333" stroke-width="0.5"/>
<path d="M230.0,51.0 L233.0,47.9" stroke="#333" stroke-width="0.55"/>
<path d="M232.4,48.8 L237.6,42.3 L239.0,43.5 L233.8,50.0 Z" fill="#fff" stroke="#333" stroke-width="0.6"/>
<path d="M237.0,40.0 L240.8,42.9 M238.3,42.9 L239.6,41.4" stroke="#333" stroke-width="0.9"/>
<text x="209.05" y="82.30" font-size="9.2" fill="#1e1e1e" textLength="21.40" lengthAdjust="spacingAndGlyphs">IBMT</text>
<text x="198.65" y="92.10" font-size="7.9" fill="#1e1e1e" textLength="47.00" lengthAdjust="spacingAndGlyphs">10<tspan font-size="5.4" dy="-3.1">6</tspan><tspan dy="3.1"> AML cells</tspan></text>
<text x="196.95" y="101.90" font-size="7.9" fill="#1e1e1e" textLength="49.40" lengthAdjust="spacingAndGlyphs">0.1x10<tspan font-size="5.4" dy="-3.1">6</tspan><tspan dy="3.1"> MSCs</tspan></text>
<text x="200.45" y="111.50" font-size="7.9" fill="#1e1e1e" textLength="42.90" lengthAdjust="spacingAndGlyphs">n= 224 mice</text>
<text x="190.05" y="120.30" font-size="7.9" fill="#1e1e1e" textLength="63.70" lengthAdjust="spacingAndGlyphs">(10 FR, 9 IR, 9 HR)</text>
<text x="216.45" y="33.20" font-size="8.9" fill="#1e1e1e" textLength="11.00" lengthAdjust="spacingAndGlyphs">D0</text>
<line x1="232.4" y1="30.3" x2="270.50000000000006" y2="30.3" stroke="#1e1e1e" stroke-width="1.15" stroke-linecap="butt"/>
<polygon points="278.10,30.30 269.70,32.54 271.00,30.30 269.70,28.06" fill="#1e1e1e"/>
<text x="282.95" y="33.00" font-size="8.9" fill="#1e1e1e" textLength="15.30" lengthAdjust="spacingAndGlyphs">W6</text>
<line x1="301.7" y1="30.5" x2="339.3" y2="30.5" stroke="#1e1e1e" stroke-width="1.15" stroke-linecap="butt"/>
<polygon points="346.90,30.50 338.50,32.74 339.80,30.50 338.50,28.26" fill="#1e1e1e"/>
<text x="350.05" y="33.30" font-size="8.9" fill="#1e1e1e" textLength="20.70" lengthAdjust="spacingAndGlyphs">W12</text>
<line x1="374.6" y1="30.7" x2="412.1" y2="30.7" stroke="#1e1e1e" stroke-width="1.15" stroke-linecap="butt"/>
<polygon points="419.70,30.70 411.30,32.94 412.60,30.70 411.30,28.46" fill="#1e1e1e"/>
<text x="424.65" y="33.30" font-size="8.9" fill="#1e1e1e" textLength="20.70" lengthAdjust="spacingAndGlyphs">W18</text>
<line x1="289.65" y1="38" x2="289.65" y2="45.7" stroke="#1e1e1e" stroke-width="2.4" stroke-linecap="butt"/>
<line x1="360.4" y1="37.4" x2="360.4" y2="45.2" stroke="#1e1e1e" stroke-width="2.4" stroke-linecap="butt"/>
<text x="282.75" y="56.80" font-size="9.3" fill="#1e1e1e" textLength="13.70" lengthAdjust="spacingAndGlyphs">BM</text>
<text x="283.75" y="67.80" font-size="9.3" fill="#1e1e1e" textLength="12.10" lengthAdjust="spacingAndGlyphs">PB</text>
<text x="354.65" y="57.30" font-size="9.3" fill="#1e1e1e" textLength="13.80" lengthAdjust="spacingAndGlyphs">BM</text>
<text x="355.35" y="68.30" font-size="9.3" fill="#1e1e1e" textLength="12.20" lengthAdjust="spacingAndGlyphs">PB</text>
<path d="M434.7,46.3 L434.7,54.5 M431.6,49.2 L437.8,49.2" stroke="#1e1e1e" stroke-width="1.5"/>
<text x="412.35" y="69.60" font-size="8.8" fill="#1e1e1e" textLength="37.60" lengthAdjust="spacingAndGlyphs">End point</text>
<text x="289.45" y="91.60" font-size="8.9" fill="#1e1e1e" textLength="75.70" lengthAdjust="spacingAndGlyphs">Euthanasia criteria:</text>
<line x1="289.8" y1="93.0" x2="364.9" y2="93.0" stroke="#1e1e1e" stroke-width="0.6"/>
<path d="M293.30,99.00 L294.90,101.20 L298.50,96.20" fill="none" stroke="#1e1e1e" stroke-width="0.7"/>
<text x="305.45" y="101.80" font-size="8.3" fill="#1e1e1e" textLength="62.00" lengthAdjust="spacingAndGlyphs">Disease symptoms</text>
<path d="M293.30,107.95 L294.90,110.15 L298.50,105.15" fill="none" stroke="#1e1e1e" stroke-width="0.7"/>
<text x="305.45" y="110.75" font-size="8.3" fill="#1e1e1e" textLength="54.20" lengthAdjust="spacingAndGlyphs">BM graft &gt; 70%</text>
<path d="M293.30,116.90 L294.90,119.10 L298.50,114.10" fill="none" stroke="#1e1e1e" stroke-width="0.7"/>
<text x="305.45" y="119.70" font-size="8.3" fill="#1e1e1e" textLength="31.70" lengthAdjust="spacingAndGlyphs">End point</text>
</g>
<rect x="0" y="0" width="520" height="1.3" fill="#111"/><rect x="0" y="0" width="1.4" height="611" fill="#111"/><rect x="518.6" y="0" width="1.4" height="611" fill="#111"/><rect x="0" y="609.7" width="520" height="1.3" fill="#111"/>
</svg>
</body></html>
